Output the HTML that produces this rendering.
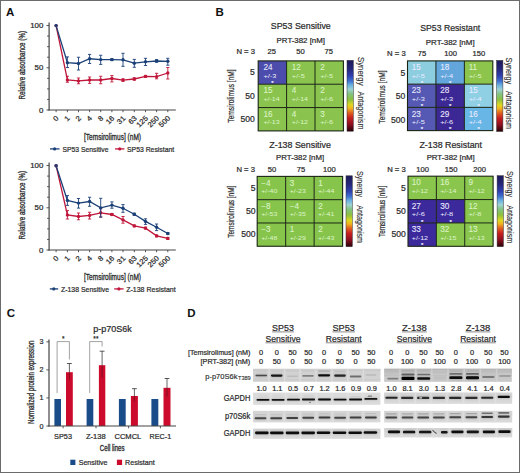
<!DOCTYPE html>
<html><head><meta charset="utf-8"><style>
html,body{margin:0;padding:0;background:#fff;}
svg{display:block;font-family:"Liberation Sans", sans-serif;}
</style></head><body>
<svg width="520" height="473" viewBox="0 0 520 473">
<rect x="0" y="0" width="520" height="473" fill="#fff"/>
<text x="6.00" y="15.90" font-size="11.5" fill="#111" font-weight="bold" >A</text>
<text x="215.60" y="15.90" font-size="11.5" fill="#111" font-weight="bold" >B</text>
<text x="6.80" y="317.30" font-size="11.5" fill="#111" font-weight="bold" >C</text>
<text x="187.30" y="317.30" font-size="11.5" fill="#111" font-weight="bold" >D</text>
<polyline points="56.10,25.60 67.40,80.00 78.50,80.90 89.60,80.00 100.70,80.00 111.90,78.50 123.00,80.10 134.30,79.00 145.50,76.40 156.60,76.60 167.80,73.00" fill="none" stroke="#c0163a" stroke-width="1.3"/>
<polyline points="56.10,25.60 67.40,62.75 78.50,63.50 89.60,58.75 100.70,59.60 111.90,59.60 123.00,59.80 134.30,63.20 145.50,61.80 156.60,61.00 167.80,61.30" fill="none" stroke="#1b4078" stroke-width="1.3"/>
<circle cx="56.10" cy="25.60" r="1.7" fill="#c0163a"/>
<line x1="67.40" y1="76.25" x2="67.40" y2="82.25" stroke="#c0163a" stroke-width="0.9" />
<line x1="65.80" y1="76.25" x2="69.00" y2="76.25" stroke="#c0163a" stroke-width="0.9" />
<line x1="65.80" y1="82.25" x2="69.00" y2="82.25" stroke="#c0163a" stroke-width="0.9" />
<circle cx="67.40" cy="80.00" r="1.7" fill="#c0163a"/>
<line x1="78.50" y1="78.00" x2="78.50" y2="83.75" stroke="#c0163a" stroke-width="0.9" />
<line x1="76.90" y1="78.00" x2="80.10" y2="78.00" stroke="#c0163a" stroke-width="0.9" />
<line x1="76.90" y1="83.75" x2="80.10" y2="83.75" stroke="#c0163a" stroke-width="0.9" />
<circle cx="78.50" cy="80.90" r="1.7" fill="#c0163a"/>
<line x1="89.60" y1="77.00" x2="89.60" y2="83.40" stroke="#c0163a" stroke-width="0.9" />
<line x1="88.00" y1="77.00" x2="91.20" y2="77.00" stroke="#c0163a" stroke-width="0.9" />
<line x1="88.00" y1="83.40" x2="91.20" y2="83.40" stroke="#c0163a" stroke-width="0.9" />
<circle cx="89.60" cy="80.00" r="1.7" fill="#c0163a"/>
<line x1="100.70" y1="76.25" x2="100.70" y2="83.75" stroke="#c0163a" stroke-width="0.9" />
<line x1="99.10" y1="76.25" x2="102.30" y2="76.25" stroke="#c0163a" stroke-width="0.9" />
<line x1="99.10" y1="83.75" x2="102.30" y2="83.75" stroke="#c0163a" stroke-width="0.9" />
<circle cx="100.70" cy="80.00" r="1.7" fill="#c0163a"/>
<line x1="111.90" y1="75.60" x2="111.90" y2="81.90" stroke="#c0163a" stroke-width="0.9" />
<line x1="110.30" y1="75.60" x2="113.50" y2="75.60" stroke="#c0163a" stroke-width="0.9" />
<line x1="110.30" y1="81.90" x2="113.50" y2="81.90" stroke="#c0163a" stroke-width="0.9" />
<circle cx="111.90" cy="78.50" r="1.7" fill="#c0163a"/>
<line x1="123.00" y1="78.80" x2="123.00" y2="81.40" stroke="#c0163a" stroke-width="0.9" />
<line x1="121.40" y1="78.80" x2="124.60" y2="78.80" stroke="#c0163a" stroke-width="0.9" />
<line x1="121.40" y1="81.40" x2="124.60" y2="81.40" stroke="#c0163a" stroke-width="0.9" />
<circle cx="123.00" cy="80.10" r="1.7" fill="#c0163a"/>
<line x1="134.30" y1="77.80" x2="134.30" y2="80.20" stroke="#c0163a" stroke-width="0.9" />
<line x1="132.70" y1="77.80" x2="135.90" y2="77.80" stroke="#c0163a" stroke-width="0.9" />
<line x1="132.70" y1="80.20" x2="135.90" y2="80.20" stroke="#c0163a" stroke-width="0.9" />
<circle cx="134.30" cy="79.00" r="1.7" fill="#c0163a"/>
<line x1="145.50" y1="75.40" x2="145.50" y2="77.40" stroke="#c0163a" stroke-width="0.9" />
<line x1="143.90" y1="75.40" x2="147.10" y2="75.40" stroke="#c0163a" stroke-width="0.9" />
<line x1="143.90" y1="77.40" x2="147.10" y2="77.40" stroke="#c0163a" stroke-width="0.9" />
<circle cx="145.50" cy="76.40" r="1.7" fill="#c0163a"/>
<line x1="156.60" y1="73.30" x2="156.60" y2="78.80" stroke="#c0163a" stroke-width="0.9" />
<line x1="155.00" y1="73.30" x2="158.20" y2="73.30" stroke="#c0163a" stroke-width="0.9" />
<line x1="155.00" y1="78.80" x2="158.20" y2="78.80" stroke="#c0163a" stroke-width="0.9" />
<circle cx="156.60" cy="76.60" r="1.7" fill="#c0163a"/>
<line x1="167.80" y1="67.50" x2="167.80" y2="79.00" stroke="#c0163a" stroke-width="0.9" />
<line x1="166.20" y1="67.50" x2="169.40" y2="67.50" stroke="#c0163a" stroke-width="0.9" />
<line x1="166.20" y1="79.00" x2="169.40" y2="79.00" stroke="#c0163a" stroke-width="0.9" />
<circle cx="167.80" cy="73.00" r="1.7" fill="#c0163a"/>
<circle cx="56.10" cy="25.60" r="1.7" fill="#1b4078"/>
<line x1="67.40" y1="56.90" x2="67.40" y2="67.50" stroke="#1b4078" stroke-width="0.9" />
<line x1="65.80" y1="56.90" x2="69.00" y2="56.90" stroke="#1b4078" stroke-width="0.9" />
<line x1="65.80" y1="67.50" x2="69.00" y2="67.50" stroke="#1b4078" stroke-width="0.9" />
<circle cx="67.40" cy="62.75" r="1.7" fill="#1b4078"/>
<line x1="78.50" y1="57.25" x2="78.50" y2="70.00" stroke="#1b4078" stroke-width="0.9" />
<line x1="76.90" y1="57.25" x2="80.10" y2="57.25" stroke="#1b4078" stroke-width="0.9" />
<line x1="76.90" y1="70.00" x2="80.10" y2="70.00" stroke="#1b4078" stroke-width="0.9" />
<circle cx="78.50" cy="63.50" r="1.7" fill="#1b4078"/>
<line x1="89.60" y1="54.40" x2="89.60" y2="63.50" stroke="#1b4078" stroke-width="0.9" />
<line x1="88.00" y1="54.40" x2="91.20" y2="54.40" stroke="#1b4078" stroke-width="0.9" />
<line x1="88.00" y1="63.50" x2="91.20" y2="63.50" stroke="#1b4078" stroke-width="0.9" />
<circle cx="89.60" cy="58.75" r="1.7" fill="#1b4078"/>
<line x1="100.70" y1="55.25" x2="100.70" y2="64.40" stroke="#1b4078" stroke-width="0.9" />
<line x1="99.10" y1="55.25" x2="102.30" y2="55.25" stroke="#1b4078" stroke-width="0.9" />
<line x1="99.10" y1="64.40" x2="102.30" y2="64.40" stroke="#1b4078" stroke-width="0.9" />
<circle cx="100.70" cy="59.60" r="1.7" fill="#1b4078"/>
<line x1="111.90" y1="58.60" x2="111.90" y2="60.60" stroke="#1b4078" stroke-width="0.9" />
<line x1="110.30" y1="58.60" x2="113.50" y2="58.60" stroke="#1b4078" stroke-width="0.9" />
<line x1="110.30" y1="60.60" x2="113.50" y2="60.60" stroke="#1b4078" stroke-width="0.9" />
<circle cx="111.90" cy="59.60" r="1.7" fill="#1b4078"/>
<line x1="123.00" y1="53.30" x2="123.00" y2="66.30" stroke="#1b4078" stroke-width="0.9" />
<line x1="121.40" y1="53.30" x2="124.60" y2="53.30" stroke="#1b4078" stroke-width="0.9" />
<line x1="121.40" y1="66.30" x2="124.60" y2="66.30" stroke="#1b4078" stroke-width="0.9" />
<circle cx="123.00" cy="59.80" r="1.7" fill="#1b4078"/>
<line x1="134.30" y1="59.40" x2="134.30" y2="67.30" stroke="#1b4078" stroke-width="0.9" />
<line x1="132.70" y1="59.40" x2="135.90" y2="59.40" stroke="#1b4078" stroke-width="0.9" />
<line x1="132.70" y1="67.30" x2="135.90" y2="67.30" stroke="#1b4078" stroke-width="0.9" />
<circle cx="134.30" cy="63.20" r="1.7" fill="#1b4078"/>
<line x1="145.50" y1="58.30" x2="145.50" y2="65.50" stroke="#1b4078" stroke-width="0.9" />
<line x1="143.90" y1="58.30" x2="147.10" y2="58.30" stroke="#1b4078" stroke-width="0.9" />
<line x1="143.90" y1="65.50" x2="147.10" y2="65.50" stroke="#1b4078" stroke-width="0.9" />
<circle cx="145.50" cy="61.80" r="1.7" fill="#1b4078"/>
<line x1="156.60" y1="59.60" x2="156.60" y2="62.20" stroke="#1b4078" stroke-width="0.9" />
<line x1="155.00" y1="59.60" x2="158.20" y2="59.60" stroke="#1b4078" stroke-width="0.9" />
<line x1="155.00" y1="62.20" x2="158.20" y2="62.20" stroke="#1b4078" stroke-width="0.9" />
<circle cx="156.60" cy="61.00" r="1.7" fill="#1b4078"/>
<line x1="167.80" y1="58.30" x2="167.80" y2="65.20" stroke="#1b4078" stroke-width="0.9" />
<line x1="166.20" y1="58.30" x2="169.40" y2="58.30" stroke="#1b4078" stroke-width="0.9" />
<line x1="166.20" y1="65.20" x2="169.40" y2="65.20" stroke="#1b4078" stroke-width="0.9" />
<circle cx="167.80" cy="61.30" r="1.7" fill="#1b4078"/>
<line x1="49.10" y1="22.40" x2="49.10" y2="110.60" stroke="#444" stroke-width="1.2" />
<line x1="48.50" y1="110.00" x2="175.80" y2="110.00" stroke="#444" stroke-width="1.2" />
<line x1="46.50" y1="110.00" x2="49.10" y2="110.00" stroke="#444" stroke-width="0.9" />
<line x1="47.10" y1="99.44" x2="49.10" y2="99.44" stroke="#444" stroke-width="0.9" />
<line x1="47.10" y1="88.88" x2="49.10" y2="88.88" stroke="#444" stroke-width="0.9" />
<line x1="47.10" y1="78.33" x2="49.10" y2="78.33" stroke="#444" stroke-width="0.9" />
<line x1="46.50" y1="67.77" x2="49.10" y2="67.77" stroke="#444" stroke-width="0.9" />
<line x1="47.10" y1="57.21" x2="49.10" y2="57.21" stroke="#444" stroke-width="0.9" />
<line x1="47.10" y1="46.66" x2="49.10" y2="46.66" stroke="#444" stroke-width="0.9" />
<line x1="47.10" y1="36.10" x2="49.10" y2="36.10" stroke="#444" stroke-width="0.9" />
<line x1="46.50" y1="25.54" x2="49.10" y2="25.54" stroke="#444" stroke-width="0.9" />
<text x="43.30" y="28.04" font-size="7.0" fill="#2a2a2a" stroke="#2a2a2a" stroke-width="0.22" text-anchor="end" textLength="13.08" lengthAdjust="spacingAndGlyphs" >100</text>
<text x="43.30" y="70.27" font-size="7.0" fill="#2a2a2a" stroke="#2a2a2a" stroke-width="0.22" text-anchor="end" textLength="8.72" lengthAdjust="spacingAndGlyphs" >50</text>
<text x="43.30" y="112.50" font-size="7.0" fill="#2a2a2a" stroke="#2a2a2a" stroke-width="0.22" text-anchor="end" textLength="4.36" lengthAdjust="spacingAndGlyphs" >0</text>
<line x1="56.10" y1="110.00" x2="56.10" y2="112.20" stroke="#444" stroke-width="0.9" />
<text x="59.10" y="118.60" font-size="7.2" fill="#2a2a2a" stroke="#2a2a2a" stroke-width="0.22" text-anchor="end" textLength="4.32" lengthAdjust="spacingAndGlyphs" transform="rotate(-45 59.10 118.60)" >0</text>
<line x1="67.40" y1="110.00" x2="67.40" y2="112.20" stroke="#444" stroke-width="0.9" />
<text x="70.40" y="118.60" font-size="7.2" fill="#2a2a2a" stroke="#2a2a2a" stroke-width="0.22" text-anchor="end" textLength="4.32" lengthAdjust="spacingAndGlyphs" transform="rotate(-45 70.40 118.60)" >1</text>
<line x1="78.50" y1="110.00" x2="78.50" y2="112.20" stroke="#444" stroke-width="0.9" />
<text x="81.50" y="118.60" font-size="7.2" fill="#2a2a2a" stroke="#2a2a2a" stroke-width="0.22" text-anchor="end" textLength="4.32" lengthAdjust="spacingAndGlyphs" transform="rotate(-45 81.50 118.60)" >2</text>
<line x1="89.60" y1="110.00" x2="89.60" y2="112.20" stroke="#444" stroke-width="0.9" />
<text x="92.60" y="118.60" font-size="7.2" fill="#2a2a2a" stroke="#2a2a2a" stroke-width="0.22" text-anchor="end" textLength="4.32" lengthAdjust="spacingAndGlyphs" transform="rotate(-45 92.60 118.60)" >4</text>
<line x1="100.70" y1="110.00" x2="100.70" y2="112.20" stroke="#444" stroke-width="0.9" />
<text x="103.70" y="118.60" font-size="7.2" fill="#2a2a2a" stroke="#2a2a2a" stroke-width="0.22" text-anchor="end" textLength="4.32" lengthAdjust="spacingAndGlyphs" transform="rotate(-45 103.70 118.60)" >8</text>
<line x1="111.90" y1="110.00" x2="111.90" y2="112.20" stroke="#444" stroke-width="0.9" />
<text x="114.90" y="118.60" font-size="7.2" fill="#2a2a2a" stroke="#2a2a2a" stroke-width="0.22" text-anchor="end" textLength="8.65" lengthAdjust="spacingAndGlyphs" transform="rotate(-45 114.90 118.60)" >16</text>
<line x1="123.00" y1="110.00" x2="123.00" y2="112.20" stroke="#444" stroke-width="0.9" />
<text x="126.00" y="118.60" font-size="7.2" fill="#2a2a2a" stroke="#2a2a2a" stroke-width="0.22" text-anchor="end" textLength="8.65" lengthAdjust="spacingAndGlyphs" transform="rotate(-45 126.00 118.60)" >31</text>
<line x1="134.30" y1="110.00" x2="134.30" y2="112.20" stroke="#444" stroke-width="0.9" />
<text x="137.30" y="118.60" font-size="7.2" fill="#2a2a2a" stroke="#2a2a2a" stroke-width="0.22" text-anchor="end" textLength="8.65" lengthAdjust="spacingAndGlyphs" transform="rotate(-45 137.30 118.60)" >63</text>
<line x1="145.50" y1="110.00" x2="145.50" y2="112.20" stroke="#444" stroke-width="0.9" />
<text x="148.50" y="118.60" font-size="7.2" fill="#2a2a2a" stroke="#2a2a2a" stroke-width="0.22" text-anchor="end" textLength="12.97" lengthAdjust="spacingAndGlyphs" transform="rotate(-45 148.50 118.60)" >125</text>
<line x1="156.60" y1="110.00" x2="156.60" y2="112.20" stroke="#444" stroke-width="0.9" />
<text x="159.60" y="118.60" font-size="7.2" fill="#2a2a2a" stroke="#2a2a2a" stroke-width="0.22" text-anchor="end" textLength="12.97" lengthAdjust="spacingAndGlyphs" transform="rotate(-45 159.60 118.60)" >250</text>
<line x1="167.80" y1="110.00" x2="167.80" y2="112.20" stroke="#444" stroke-width="0.9" />
<text x="170.80" y="118.60" font-size="7.2" fill="#2a2a2a" stroke="#2a2a2a" stroke-width="0.22" text-anchor="end" textLength="12.97" lengthAdjust="spacingAndGlyphs" transform="rotate(-45 170.80 118.60)" >500</text>
<text x="25.20" y="65.20" font-size="8.2" fill="#2a2a2a" stroke="#2a2a2a" stroke-width="0.3" text-anchor="middle" textLength="68.50" lengthAdjust="spacingAndGlyphs" transform="rotate(-90 25.20 65.20)" >Relative absorbance (%)</text>
<text x="84.00" y="139.50" font-size="8.8" fill="#2a2a2a" stroke="#2a2a2a" stroke-width="0.32" textLength="57.00" lengthAdjust="spacingAndGlyphs" >[Temsirolimus] (nM)</text>
<line x1="50.00" y1="148.90" x2="59.50" y2="148.90" stroke="#1b4078" stroke-width="1.3" />
<circle cx="54.60" cy="148.90" r="1.6" fill="#1b4078"/>
<text x="62.40" y="151.50" font-size="7.6" fill="#2a2a2a" stroke="#2a2a2a" stroke-width="0.22" textLength="46.10" lengthAdjust="spacingAndGlyphs" >SP53 Sensitive</text>
<line x1="115.00" y1="148.90" x2="124.40" y2="148.90" stroke="#c0163a" stroke-width="1.3" />
<circle cx="119.70" cy="148.90" r="1.6" fill="#c0163a"/>
<text x="127.00" y="151.50" font-size="7.6" fill="#2a2a2a" stroke="#2a2a2a" stroke-width="0.22" textLength="47.20" lengthAdjust="spacingAndGlyphs" >SP53 Resistant</text>
<polyline points="56.10,165.70 67.40,215.00 78.50,216.50 89.60,215.40 100.70,212.80 111.90,214.50 123.00,219.90 134.30,225.90 145.50,228.10 156.60,235.90 167.80,238.40" fill="none" stroke="#c0163a" stroke-width="1.3"/>
<polyline points="56.10,165.70 67.40,200.40 78.50,203.10 89.60,201.50 100.70,207.90 111.90,205.10 123.00,208.30 134.30,214.30 145.50,221.40 156.60,227.30 167.80,233.50" fill="none" stroke="#1b4078" stroke-width="1.3"/>
<circle cx="56.10" cy="165.70" r="1.7" fill="#c0163a"/>
<line x1="67.40" y1="210.60" x2="67.40" y2="219.00" stroke="#c0163a" stroke-width="0.9" />
<line x1="65.80" y1="210.60" x2="69.00" y2="210.60" stroke="#c0163a" stroke-width="0.9" />
<line x1="65.80" y1="219.00" x2="69.00" y2="219.00" stroke="#c0163a" stroke-width="0.9" />
<circle cx="67.40" cy="215.00" r="1.7" fill="#c0163a"/>
<line x1="78.50" y1="213.00" x2="78.50" y2="219.75" stroke="#c0163a" stroke-width="0.9" />
<line x1="76.90" y1="213.00" x2="80.10" y2="213.00" stroke="#c0163a" stroke-width="0.9" />
<line x1="76.90" y1="219.75" x2="80.10" y2="219.75" stroke="#c0163a" stroke-width="0.9" />
<circle cx="78.50" cy="216.50" r="1.7" fill="#c0163a"/>
<line x1="89.60" y1="212.25" x2="89.60" y2="219.00" stroke="#c0163a" stroke-width="0.9" />
<line x1="88.00" y1="212.25" x2="91.20" y2="212.25" stroke="#c0163a" stroke-width="0.9" />
<line x1="88.00" y1="219.00" x2="91.20" y2="219.00" stroke="#c0163a" stroke-width="0.9" />
<circle cx="89.60" cy="215.40" r="1.7" fill="#c0163a"/>
<line x1="100.70" y1="208.00" x2="100.70" y2="217.00" stroke="#c0163a" stroke-width="0.9" />
<line x1="99.10" y1="208.00" x2="102.30" y2="208.00" stroke="#c0163a" stroke-width="0.9" />
<line x1="99.10" y1="217.00" x2="102.30" y2="217.00" stroke="#c0163a" stroke-width="0.9" />
<circle cx="100.70" cy="212.80" r="1.7" fill="#c0163a"/>
<line x1="111.90" y1="213.50" x2="111.90" y2="215.50" stroke="#c0163a" stroke-width="0.9" />
<line x1="110.30" y1="213.50" x2="113.50" y2="213.50" stroke="#c0163a" stroke-width="0.9" />
<line x1="110.30" y1="215.50" x2="113.50" y2="215.50" stroke="#c0163a" stroke-width="0.9" />
<circle cx="111.90" cy="214.50" r="1.7" fill="#c0163a"/>
<line x1="123.00" y1="216.50" x2="123.00" y2="223.20" stroke="#c0163a" stroke-width="0.9" />
<line x1="121.40" y1="216.50" x2="124.60" y2="216.50" stroke="#c0163a" stroke-width="0.9" />
<line x1="121.40" y1="223.20" x2="124.60" y2="223.20" stroke="#c0163a" stroke-width="0.9" />
<circle cx="123.00" cy="219.90" r="1.7" fill="#c0163a"/>
<line x1="134.30" y1="225.00" x2="134.30" y2="226.80" stroke="#c0163a" stroke-width="0.9" />
<line x1="132.70" y1="225.00" x2="135.90" y2="225.00" stroke="#c0163a" stroke-width="0.9" />
<line x1="132.70" y1="226.80" x2="135.90" y2="226.80" stroke="#c0163a" stroke-width="0.9" />
<circle cx="134.30" cy="225.90" r="1.7" fill="#c0163a"/>
<line x1="145.50" y1="227.10" x2="145.50" y2="229.10" stroke="#c0163a" stroke-width="0.9" />
<line x1="143.90" y1="227.10" x2="147.10" y2="227.10" stroke="#c0163a" stroke-width="0.9" />
<line x1="143.90" y1="229.10" x2="147.10" y2="229.10" stroke="#c0163a" stroke-width="0.9" />
<circle cx="145.50" cy="228.10" r="1.7" fill="#c0163a"/>
<line x1="156.60" y1="235.00" x2="156.60" y2="236.80" stroke="#c0163a" stroke-width="0.9" />
<line x1="155.00" y1="235.00" x2="158.20" y2="235.00" stroke="#c0163a" stroke-width="0.9" />
<line x1="155.00" y1="236.80" x2="158.20" y2="236.80" stroke="#c0163a" stroke-width="0.9" />
<circle cx="156.60" cy="235.90" r="1.7" fill="#c0163a"/>
<line x1="167.80" y1="237.40" x2="167.80" y2="239.40" stroke="#c0163a" stroke-width="0.9" />
<line x1="166.20" y1="237.40" x2="169.40" y2="237.40" stroke="#c0163a" stroke-width="0.9" />
<line x1="166.20" y1="239.40" x2="169.40" y2="239.40" stroke="#c0163a" stroke-width="0.9" />
<circle cx="167.80" cy="238.40" r="1.7" fill="#c0163a"/>
<circle cx="56.10" cy="165.70" r="1.7" fill="#1b4078"/>
<line x1="67.40" y1="195.60" x2="67.40" y2="205.40" stroke="#1b4078" stroke-width="0.9" />
<line x1="65.80" y1="195.60" x2="69.00" y2="195.60" stroke="#1b4078" stroke-width="0.9" />
<line x1="65.80" y1="205.40" x2="69.00" y2="205.40" stroke="#1b4078" stroke-width="0.9" />
<circle cx="67.40" cy="200.40" r="1.7" fill="#1b4078"/>
<line x1="78.50" y1="198.50" x2="78.50" y2="208.10" stroke="#1b4078" stroke-width="0.9" />
<line x1="76.90" y1="198.50" x2="80.10" y2="198.50" stroke="#1b4078" stroke-width="0.9" />
<line x1="76.90" y1="208.10" x2="80.10" y2="208.10" stroke="#1b4078" stroke-width="0.9" />
<circle cx="78.50" cy="203.10" r="1.7" fill="#1b4078"/>
<line x1="89.60" y1="197.25" x2="89.60" y2="206.25" stroke="#1b4078" stroke-width="0.9" />
<line x1="88.00" y1="197.25" x2="91.20" y2="197.25" stroke="#1b4078" stroke-width="0.9" />
<line x1="88.00" y1="206.25" x2="91.20" y2="206.25" stroke="#1b4078" stroke-width="0.9" />
<circle cx="89.60" cy="201.50" r="1.7" fill="#1b4078"/>
<line x1="100.70" y1="198.30" x2="100.70" y2="217.10" stroke="#1b4078" stroke-width="0.9" />
<line x1="99.10" y1="198.30" x2="102.30" y2="198.30" stroke="#1b4078" stroke-width="0.9" />
<line x1="99.10" y1="217.10" x2="102.30" y2="217.10" stroke="#1b4078" stroke-width="0.9" />
<circle cx="100.70" cy="207.90" r="1.7" fill="#1b4078"/>
<line x1="111.90" y1="201.90" x2="111.90" y2="208.20" stroke="#1b4078" stroke-width="0.9" />
<line x1="110.30" y1="201.90" x2="113.50" y2="201.90" stroke="#1b4078" stroke-width="0.9" />
<line x1="110.30" y1="208.20" x2="113.50" y2="208.20" stroke="#1b4078" stroke-width="0.9" />
<circle cx="111.90" cy="205.10" r="1.7" fill="#1b4078"/>
<line x1="123.00" y1="204.60" x2="123.00" y2="212.30" stroke="#1b4078" stroke-width="0.9" />
<line x1="121.40" y1="204.60" x2="124.60" y2="204.60" stroke="#1b4078" stroke-width="0.9" />
<line x1="121.40" y1="212.30" x2="124.60" y2="212.30" stroke="#1b4078" stroke-width="0.9" />
<circle cx="123.00" cy="208.30" r="1.7" fill="#1b4078"/>
<line x1="134.30" y1="213.20" x2="134.30" y2="215.40" stroke="#1b4078" stroke-width="0.9" />
<line x1="132.70" y1="213.20" x2="135.90" y2="213.20" stroke="#1b4078" stroke-width="0.9" />
<line x1="132.70" y1="215.40" x2="135.90" y2="215.40" stroke="#1b4078" stroke-width="0.9" />
<circle cx="134.30" cy="214.30" r="1.7" fill="#1b4078"/>
<line x1="145.50" y1="218.80" x2="145.50" y2="224.40" stroke="#1b4078" stroke-width="0.9" />
<line x1="143.90" y1="218.80" x2="147.10" y2="218.80" stroke="#1b4078" stroke-width="0.9" />
<line x1="143.90" y1="224.40" x2="147.10" y2="224.40" stroke="#1b4078" stroke-width="0.9" />
<circle cx="145.50" cy="221.40" r="1.7" fill="#1b4078"/>
<line x1="156.60" y1="224.00" x2="156.60" y2="230.60" stroke="#1b4078" stroke-width="0.9" />
<line x1="155.00" y1="224.00" x2="158.20" y2="224.00" stroke="#1b4078" stroke-width="0.9" />
<line x1="155.00" y1="230.60" x2="158.20" y2="230.60" stroke="#1b4078" stroke-width="0.9" />
<circle cx="156.60" cy="227.30" r="1.7" fill="#1b4078"/>
<line x1="167.80" y1="232.50" x2="167.80" y2="234.50" stroke="#1b4078" stroke-width="0.9" />
<line x1="166.20" y1="232.50" x2="169.40" y2="232.50" stroke="#1b4078" stroke-width="0.9" />
<line x1="166.20" y1="234.50" x2="169.40" y2="234.50" stroke="#1b4078" stroke-width="0.9" />
<circle cx="167.80" cy="233.50" r="1.7" fill="#1b4078"/>
<line x1="49.10" y1="162.40" x2="49.10" y2="250.60" stroke="#444" stroke-width="1.2" />
<line x1="48.50" y1="250.00" x2="175.80" y2="250.00" stroke="#444" stroke-width="1.2" />
<line x1="46.50" y1="250.00" x2="49.10" y2="250.00" stroke="#444" stroke-width="0.9" />
<line x1="47.10" y1="239.44" x2="49.10" y2="239.44" stroke="#444" stroke-width="0.9" />
<line x1="47.10" y1="228.88" x2="49.10" y2="228.88" stroke="#444" stroke-width="0.9" />
<line x1="47.10" y1="218.33" x2="49.10" y2="218.33" stroke="#444" stroke-width="0.9" />
<line x1="46.50" y1="207.77" x2="49.10" y2="207.77" stroke="#444" stroke-width="0.9" />
<line x1="47.10" y1="197.21" x2="49.10" y2="197.21" stroke="#444" stroke-width="0.9" />
<line x1="47.10" y1="186.66" x2="49.10" y2="186.66" stroke="#444" stroke-width="0.9" />
<line x1="47.10" y1="176.10" x2="49.10" y2="176.10" stroke="#444" stroke-width="0.9" />
<line x1="46.50" y1="165.54" x2="49.10" y2="165.54" stroke="#444" stroke-width="0.9" />
<text x="43.30" y="168.04" font-size="7.0" fill="#2a2a2a" stroke="#2a2a2a" stroke-width="0.22" text-anchor="end" textLength="13.08" lengthAdjust="spacingAndGlyphs" >100</text>
<text x="43.30" y="210.27" font-size="7.0" fill="#2a2a2a" stroke="#2a2a2a" stroke-width="0.22" text-anchor="end" textLength="8.72" lengthAdjust="spacingAndGlyphs" >50</text>
<text x="43.30" y="252.50" font-size="7.0" fill="#2a2a2a" stroke="#2a2a2a" stroke-width="0.22" text-anchor="end" textLength="4.36" lengthAdjust="spacingAndGlyphs" >0</text>
<line x1="56.10" y1="250.00" x2="56.10" y2="252.20" stroke="#444" stroke-width="0.9" />
<text x="59.10" y="258.60" font-size="7.2" fill="#2a2a2a" stroke="#2a2a2a" stroke-width="0.22" text-anchor="end" textLength="4.32" lengthAdjust="spacingAndGlyphs" transform="rotate(-45 59.10 258.60)" >0</text>
<line x1="67.40" y1="250.00" x2="67.40" y2="252.20" stroke="#444" stroke-width="0.9" />
<text x="70.40" y="258.60" font-size="7.2" fill="#2a2a2a" stroke="#2a2a2a" stroke-width="0.22" text-anchor="end" textLength="4.32" lengthAdjust="spacingAndGlyphs" transform="rotate(-45 70.40 258.60)" >1</text>
<line x1="78.50" y1="250.00" x2="78.50" y2="252.20" stroke="#444" stroke-width="0.9" />
<text x="81.50" y="258.60" font-size="7.2" fill="#2a2a2a" stroke="#2a2a2a" stroke-width="0.22" text-anchor="end" textLength="4.32" lengthAdjust="spacingAndGlyphs" transform="rotate(-45 81.50 258.60)" >2</text>
<line x1="89.60" y1="250.00" x2="89.60" y2="252.20" stroke="#444" stroke-width="0.9" />
<text x="92.60" y="258.60" font-size="7.2" fill="#2a2a2a" stroke="#2a2a2a" stroke-width="0.22" text-anchor="end" textLength="4.32" lengthAdjust="spacingAndGlyphs" transform="rotate(-45 92.60 258.60)" >4</text>
<line x1="100.70" y1="250.00" x2="100.70" y2="252.20" stroke="#444" stroke-width="0.9" />
<text x="103.70" y="258.60" font-size="7.2" fill="#2a2a2a" stroke="#2a2a2a" stroke-width="0.22" text-anchor="end" textLength="4.32" lengthAdjust="spacingAndGlyphs" transform="rotate(-45 103.70 258.60)" >8</text>
<line x1="111.90" y1="250.00" x2="111.90" y2="252.20" stroke="#444" stroke-width="0.9" />
<text x="114.90" y="258.60" font-size="7.2" fill="#2a2a2a" stroke="#2a2a2a" stroke-width="0.22" text-anchor="end" textLength="8.65" lengthAdjust="spacingAndGlyphs" transform="rotate(-45 114.90 258.60)" >16</text>
<line x1="123.00" y1="250.00" x2="123.00" y2="252.20" stroke="#444" stroke-width="0.9" />
<text x="126.00" y="258.60" font-size="7.2" fill="#2a2a2a" stroke="#2a2a2a" stroke-width="0.22" text-anchor="end" textLength="8.65" lengthAdjust="spacingAndGlyphs" transform="rotate(-45 126.00 258.60)" >31</text>
<line x1="134.30" y1="250.00" x2="134.30" y2="252.20" stroke="#444" stroke-width="0.9" />
<text x="137.30" y="258.60" font-size="7.2" fill="#2a2a2a" stroke="#2a2a2a" stroke-width="0.22" text-anchor="end" textLength="8.65" lengthAdjust="spacingAndGlyphs" transform="rotate(-45 137.30 258.60)" >63</text>
<line x1="145.50" y1="250.00" x2="145.50" y2="252.20" stroke="#444" stroke-width="0.9" />
<text x="148.50" y="258.60" font-size="7.2" fill="#2a2a2a" stroke="#2a2a2a" stroke-width="0.22" text-anchor="end" textLength="12.97" lengthAdjust="spacingAndGlyphs" transform="rotate(-45 148.50 258.60)" >125</text>
<line x1="156.60" y1="250.00" x2="156.60" y2="252.20" stroke="#444" stroke-width="0.9" />
<text x="159.60" y="258.60" font-size="7.2" fill="#2a2a2a" stroke="#2a2a2a" stroke-width="0.22" text-anchor="end" textLength="12.97" lengthAdjust="spacingAndGlyphs" transform="rotate(-45 159.60 258.60)" >250</text>
<line x1="167.80" y1="250.00" x2="167.80" y2="252.20" stroke="#444" stroke-width="0.9" />
<text x="170.80" y="258.60" font-size="7.2" fill="#2a2a2a" stroke="#2a2a2a" stroke-width="0.22" text-anchor="end" textLength="12.97" lengthAdjust="spacingAndGlyphs" transform="rotate(-45 170.80 258.60)" >500</text>
<text x="25.20" y="205.20" font-size="8.2" fill="#2a2a2a" stroke="#2a2a2a" stroke-width="0.3" text-anchor="middle" textLength="68.50" lengthAdjust="spacingAndGlyphs" transform="rotate(-90 25.20 205.20)" >Relative absorbance (%)</text>
<text x="84.00" y="279.50" font-size="8.8" fill="#2a2a2a" stroke="#2a2a2a" stroke-width="0.32" textLength="57.00" lengthAdjust="spacingAndGlyphs" >[Temsirolimus] (nM)</text>
<line x1="49.80" y1="288.90" x2="58.20" y2="288.90" stroke="#1b4078" stroke-width="1.3" />
<circle cx="53.80" cy="288.90" r="1.6" fill="#1b4078"/>
<text x="61.00" y="291.50" font-size="7.6" fill="#2a2a2a" stroke="#2a2a2a" stroke-width="0.22" textLength="48.00" lengthAdjust="spacingAndGlyphs" >Z-138 Sensitive</text>
<line x1="114.20" y1="288.90" x2="123.60" y2="288.90" stroke="#c0163a" stroke-width="1.3" />
<circle cx="118.90" cy="288.90" r="1.6" fill="#c0163a"/>
<text x="126.20" y="291.50" font-size="7.6" fill="#2a2a2a" stroke="#2a2a2a" stroke-width="0.22" textLength="49.50" lengthAdjust="spacingAndGlyphs" >Z-138 Resistant</text>
<defs><linearGradient id="cbar" x1="0" y1="0" x2="0" y2="1"><stop offset="0" stop-color="#1c1a58"/><stop offset="0.12" stop-color="#26267a"/><stop offset="0.22" stop-color="#3040b0"/><stop offset="0.29" stop-color="#3f6fcf"/><stop offset="0.35" stop-color="#6cb2e0"/><stop offset="0.41" stop-color="#9ed2d4"/><stop offset="0.47" stop-color="#84c484"/><stop offset="0.55" stop-color="#8cc040"/><stop offset="0.63" stop-color="#e0d820"/><stop offset="0.68" stop-color="#f0b020"/><stop offset="0.74" stop-color="#e06020"/><stop offset="0.81" stop-color="#c82020"/><stop offset="0.90" stop-color="#901020"/><stop offset="1" stop-color="#2a0008"/></linearGradient></defs>
<text x="300.80" y="29.20" font-size="9.0" fill="#2a2a2a" stroke="#2a2a2a" stroke-width="0.22" text-anchor="middle" textLength="60.00" lengthAdjust="spacingAndGlyphs" >SP53 Sensitive</text>
<text x="300.80" y="42.60" font-size="7.8" fill="#2a2a2a" stroke="#2a2a2a" stroke-width="0.22" text-anchor="middle" textLength="48.40" lengthAdjust="spacingAndGlyphs" >PRT-382 [nM]</text>
<text x="255.00" y="54.20" font-size="7.2" fill="#2a2a2a" stroke="#2a2a2a" stroke-width="0.22" text-anchor="end" textLength="18.60" lengthAdjust="spacingAndGlyphs" >N = 3</text>
<text x="271.80" y="54.10" font-size="7.6" fill="#2a2a2a" stroke="#2a2a2a" stroke-width="0.22" text-anchor="middle" >25</text>
<text x="300.40" y="54.10" font-size="7.6" fill="#2a2a2a" stroke="#2a2a2a" stroke-width="0.22" text-anchor="middle" >50</text>
<text x="328.80" y="54.10" font-size="7.6" fill="#2a2a2a" stroke="#2a2a2a" stroke-width="0.22" text-anchor="middle" >75</text>
<text x="254.80" y="75.00" font-size="8.6" fill="#2a2a2a" stroke="#2a2a2a" stroke-width="0.22" text-anchor="end" >5</text>
<text x="254.80" y="98.70" font-size="8.6" fill="#2a2a2a" stroke="#2a2a2a" stroke-width="0.22" text-anchor="end" >50</text>
<text x="254.80" y="122.20" font-size="8.6" fill="#2a2a2a" stroke="#2a2a2a" stroke-width="0.22" text-anchor="end" >500</text>
<text x="234.40" y="96.00" font-size="9.2" fill="#2a2a2a" stroke="#2a2a2a" stroke-width="0.22" text-anchor="middle" textLength="53.30" lengthAdjust="spacingAndGlyphs" transform="rotate(-90 234.40 96.00)" >Temsirolimus [nM]</text>
<rect x="258.20" y="60.90" width="28.40" height="23.33" fill="#4b4cab" />
<rect x="286.60" y="60.90" width="28.40" height="23.33" fill="#8ac44e" />
<rect x="315.00" y="60.90" width="28.40" height="23.33" fill="#8ac44e" />
<rect x="258.20" y="84.23" width="28.40" height="23.33" fill="#8ac44e" />
<rect x="286.60" y="84.23" width="28.40" height="23.33" fill="#8ac44e" />
<rect x="315.00" y="84.23" width="28.40" height="23.33" fill="#8ac44e" />
<rect x="258.20" y="107.57" width="28.40" height="23.33" fill="#8ac44e" />
<rect x="286.60" y="107.57" width="28.40" height="23.33" fill="#8ac44e" />
<rect x="315.00" y="107.57" width="28.40" height="23.33" fill="#8ac44e" />
<text x="263.40" y="70.10" font-size="8.2" fill="#ececff" stroke="#ececff" stroke-width="0.08" >24</text>
<text x="263.40" y="77.50" font-size="5.9" fill="#ececff" textLength="13.00" lengthAdjust="spacingAndGlyphs" >+/-3</text>
<text x="272.50" y="84.90" font-size="6.0" fill="#ececff" stroke="#ececff" stroke-width="0.22" text-anchor="middle" >*</text>
<text x="291.80" y="70.10" font-size="8.2" fill="#ddf4c8" stroke="#ddf4c8" stroke-width="0.08" >12</text>
<text x="291.80" y="77.50" font-size="5.9" fill="#ddf4c8" textLength="13.00" lengthAdjust="spacingAndGlyphs" >+/-5</text>
<text x="320.20" y="70.10" font-size="8.2" fill="#ddf4c8" stroke="#ddf4c8" stroke-width="0.08" >2</text>
<text x="320.20" y="77.50" font-size="5.9" fill="#ddf4c8" textLength="13.00" lengthAdjust="spacingAndGlyphs" >+/-5</text>
<text x="263.40" y="93.43" font-size="8.2" fill="#ddf4c8" stroke="#ddf4c8" stroke-width="0.08" >15</text>
<text x="263.40" y="100.83" font-size="5.9" fill="#ddf4c8" textLength="16.20" lengthAdjust="spacingAndGlyphs" >+/-14</text>
<text x="291.80" y="93.43" font-size="8.2" fill="#ddf4c8" stroke="#ddf4c8" stroke-width="0.08" >4</text>
<text x="291.80" y="100.83" font-size="5.9" fill="#ddf4c8" textLength="16.20" lengthAdjust="spacingAndGlyphs" >+/-14</text>
<text x="320.20" y="93.43" font-size="8.2" fill="#ddf4c8" stroke="#ddf4c8" stroke-width="0.08" >2</text>
<text x="320.20" y="100.83" font-size="5.9" fill="#ddf4c8" textLength="13.00" lengthAdjust="spacingAndGlyphs" >+/-6</text>
<text x="263.40" y="116.77" font-size="8.2" fill="#ddf4c8" stroke="#ddf4c8" stroke-width="0.08" >16</text>
<text x="263.40" y="124.17" font-size="5.9" fill="#ddf4c8" textLength="16.20" lengthAdjust="spacingAndGlyphs" >+/-13</text>
<text x="291.80" y="116.77" font-size="8.2" fill="#ddf4c8" stroke="#ddf4c8" stroke-width="0.08" >4</text>
<text x="291.80" y="124.17" font-size="5.9" fill="#ddf4c8" textLength="16.20" lengthAdjust="spacingAndGlyphs" >+/-12</text>
<text x="320.20" y="116.77" font-size="8.2" fill="#ddf4c8" stroke="#ddf4c8" stroke-width="0.08" >3</text>
<text x="320.20" y="124.17" font-size="5.9" fill="#ddf4c8" textLength="13.00" lengthAdjust="spacingAndGlyphs" >+/-6</text>
<line x1="286.60" y1="60.90" x2="286.60" y2="130.90" stroke="#1a2412" stroke-width="1.0" />
<line x1="258.20" y1="84.23" x2="343.40" y2="84.23" stroke="#1a2412" stroke-width="1.0" />
<line x1="315.00" y1="60.90" x2="315.00" y2="130.90" stroke="#1a2412" stroke-width="1.0" />
<line x1="258.20" y1="107.57" x2="343.40" y2="107.57" stroke="#1a2412" stroke-width="1.0" />
<rect x="258.20" y="60.90" width="85.20" height="70.00" fill="none" stroke="#1a2412" stroke-width="1.1"/>
<rect x="347.00" y="60.30" width="6.3" height="70.90" fill="url(#cbar)" stroke="#333" stroke-width="0.5"/>
<text x="357.60" y="57.00" font-size="8.2" fill="#2a2a2a" stroke="#2a2a2a" stroke-width="0.1" textLength="28.60" lengthAdjust="spacingAndGlyphs" transform="rotate(90 357.60 57.00)" >Synergy</text>
<text x="357.60" y="91.40" font-size="8.2" fill="#2a2a2a" stroke="#2a2a2a" stroke-width="0.1" textLength="38.10" lengthAdjust="spacingAndGlyphs" transform="rotate(90 357.60 91.40)" >Antagonism</text>
<text x="450.20" y="30.80" font-size="9.0" fill="#2a2a2a" stroke="#2a2a2a" stroke-width="0.22" text-anchor="middle" textLength="59.90" lengthAdjust="spacingAndGlyphs" >SP53 Resistant</text>
<text x="450.20" y="44.60" font-size="7.8" fill="#2a2a2a" stroke="#2a2a2a" stroke-width="0.22" text-anchor="middle" textLength="48.80" lengthAdjust="spacingAndGlyphs" >PRT-382 [nM]</text>
<text x="405.70" y="56.00" font-size="7.2" fill="#2a2a2a" stroke="#2a2a2a" stroke-width="0.22" text-anchor="end" textLength="18.60" lengthAdjust="spacingAndGlyphs" >N = 3</text>
<text x="422.00" y="55.90" font-size="7.6" fill="#2a2a2a" stroke="#2a2a2a" stroke-width="0.22" text-anchor="middle" >75</text>
<text x="450.60" y="55.90" font-size="7.6" fill="#2a2a2a" stroke="#2a2a2a" stroke-width="0.22" text-anchor="middle" >100</text>
<text x="478.80" y="55.90" font-size="7.6" fill="#2a2a2a" stroke="#2a2a2a" stroke-width="0.22" text-anchor="middle" >150</text>
<text x="405.40" y="75.60" font-size="8.6" fill="#2a2a2a" stroke="#2a2a2a" stroke-width="0.22" text-anchor="end" >5</text>
<text x="405.40" y="99.00" font-size="8.6" fill="#2a2a2a" stroke="#2a2a2a" stroke-width="0.22" text-anchor="end" >50</text>
<text x="405.40" y="122.60" font-size="8.6" fill="#2a2a2a" stroke="#2a2a2a" stroke-width="0.22" text-anchor="end" >500</text>
<text x="384.80" y="97.00" font-size="9.2" fill="#2a2a2a" stroke="#2a2a2a" stroke-width="0.22" text-anchor="middle" textLength="53.30" lengthAdjust="spacingAndGlyphs" transform="rotate(-90 384.80 97.00)" >Temsirolimus [nM]</text>
<rect x="407.50" y="60.90" width="28.43" height="23.23" fill="#8ccde0" />
<rect x="435.93" y="60.90" width="28.43" height="23.23" fill="#62a6dc" />
<rect x="464.37" y="60.90" width="28.43" height="23.23" fill="#8cc44c" />
<rect x="407.50" y="84.13" width="28.43" height="23.23" fill="#5559b4" />
<rect x="435.93" y="84.13" width="28.43" height="23.23" fill="#3c2894" />
<rect x="464.37" y="84.13" width="28.43" height="23.23" fill="#8fd0e4" />
<rect x="407.50" y="107.37" width="28.43" height="23.23" fill="#5559b4" />
<rect x="435.93" y="107.37" width="28.43" height="23.23" fill="#3c2894" />
<rect x="464.37" y="107.37" width="28.43" height="23.23" fill="#68b6e6" />
<text x="411.80" y="70.10" font-size="8.2" fill="#ececff" stroke="#ececff" stroke-width="0.08" >15</text>
<text x="411.80" y="77.50" font-size="5.9" fill="#ececff" textLength="13.00" lengthAdjust="spacingAndGlyphs" >+/-5</text>
<text x="421.82" y="84.90" font-size="6.0" fill="#ececff" stroke="#ececff" stroke-width="0.22" text-anchor="middle" >*</text>
<text x="440.23" y="70.10" font-size="8.2" fill="#ececff" stroke="#ececff" stroke-width="0.08" >18</text>
<text x="440.23" y="77.50" font-size="5.9" fill="#ececff" textLength="13.00" lengthAdjust="spacingAndGlyphs" >+/-4</text>
<text x="450.25" y="84.90" font-size="6.0" fill="#ececff" stroke="#ececff" stroke-width="0.22" text-anchor="middle" >*</text>
<text x="468.67" y="70.10" font-size="8.2" fill="#ddf4c8" stroke="#ddf4c8" stroke-width="0.08" >11</text>
<text x="468.67" y="77.50" font-size="5.9" fill="#ddf4c8" textLength="13.00" lengthAdjust="spacingAndGlyphs" >+/-5</text>
<text x="411.80" y="93.33" font-size="8.2" fill="#ececff" stroke="#ececff" stroke-width="0.08" >23</text>
<text x="411.80" y="100.73" font-size="5.9" fill="#ececff" textLength="13.00" lengthAdjust="spacingAndGlyphs" >+/-3</text>
<text x="421.82" y="108.13" font-size="6.0" fill="#ececff" stroke="#ececff" stroke-width="0.22" text-anchor="middle" >*</text>
<text x="440.23" y="93.33" font-size="8.2" fill="#ececff" stroke="#ececff" stroke-width="0.08" >28</text>
<text x="440.23" y="100.73" font-size="5.9" fill="#ececff" textLength="13.00" lengthAdjust="spacingAndGlyphs" >+/-3</text>
<text x="450.25" y="108.13" font-size="6.0" fill="#ececff" stroke="#ececff" stroke-width="0.22" text-anchor="middle" >*</text>
<text x="468.67" y="93.33" font-size="8.2" fill="#ececff" stroke="#ececff" stroke-width="0.08" >15</text>
<text x="468.67" y="100.73" font-size="5.9" fill="#ececff" textLength="13.00" lengthAdjust="spacingAndGlyphs" >+/-4</text>
<text x="478.68" y="108.13" font-size="6.0" fill="#ececff" stroke="#ececff" stroke-width="0.22" text-anchor="middle" >*</text>
<text x="411.80" y="116.57" font-size="8.2" fill="#ececff" stroke="#ececff" stroke-width="0.08" >23</text>
<text x="411.80" y="123.97" font-size="5.9" fill="#ececff" textLength="13.00" lengthAdjust="spacingAndGlyphs" >+/-5</text>
<text x="421.82" y="131.37" font-size="6.0" fill="#ececff" stroke="#ececff" stroke-width="0.22" text-anchor="middle" >*</text>
<text x="440.23" y="116.57" font-size="8.2" fill="#ececff" stroke="#ececff" stroke-width="0.08" >29</text>
<text x="440.23" y="123.97" font-size="5.9" fill="#ececff" textLength="13.00" lengthAdjust="spacingAndGlyphs" >+/-6</text>
<text x="450.25" y="131.37" font-size="6.0" fill="#ececff" stroke="#ececff" stroke-width="0.22" text-anchor="middle" >*</text>
<text x="468.67" y="116.57" font-size="8.2" fill="#ececff" stroke="#ececff" stroke-width="0.08" >16</text>
<text x="468.67" y="123.97" font-size="5.9" fill="#ececff" textLength="13.00" lengthAdjust="spacingAndGlyphs" >+/-4</text>
<text x="478.68" y="131.37" font-size="6.0" fill="#ececff" stroke="#ececff" stroke-width="0.22" text-anchor="middle" >*</text>
<line x1="435.93" y1="60.90" x2="435.93" y2="130.60" stroke="#1a2412" stroke-width="1.0" />
<line x1="407.50" y1="84.13" x2="492.80" y2="84.13" stroke="#1a2412" stroke-width="1.0" />
<line x1="464.37" y1="60.90" x2="464.37" y2="130.60" stroke="#1a2412" stroke-width="1.0" />
<line x1="407.50" y1="107.37" x2="492.80" y2="107.37" stroke="#1a2412" stroke-width="1.0" />
<rect x="407.50" y="60.90" width="85.30" height="69.70" fill="none" stroke="#1a2412" stroke-width="1.1"/>
<rect x="496.60" y="60.40" width="6.3" height="71.10" fill="url(#cbar)" stroke="#333" stroke-width="0.5"/>
<text x="506.20" y="57.60" font-size="8.2" fill="#2a2a2a" stroke="#2a2a2a" stroke-width="0.1" textLength="26.60" lengthAdjust="spacingAndGlyphs" transform="rotate(90 506.20 57.60)" >Synergy</text>
<text x="506.20" y="90.90" font-size="8.2" fill="#2a2a2a" stroke="#2a2a2a" stroke-width="0.1" textLength="38.00" lengthAdjust="spacingAndGlyphs" transform="rotate(90 506.20 90.90)" >Antagonism</text>
<text x="300.10" y="148.30" font-size="9.0" fill="#2a2a2a" stroke="#2a2a2a" stroke-width="0.22" text-anchor="middle" textLength="61.60" lengthAdjust="spacingAndGlyphs" >Z-138 Sensitive</text>
<text x="300.10" y="159.70" font-size="7.8" fill="#2a2a2a" stroke="#2a2a2a" stroke-width="0.22" text-anchor="middle" textLength="48.00" lengthAdjust="spacingAndGlyphs" >PRT-382 [nM]</text>
<text x="255.00" y="171.80" font-size="7.2" fill="#2a2a2a" stroke="#2a2a2a" stroke-width="0.22" text-anchor="end" textLength="18.60" lengthAdjust="spacingAndGlyphs" >N = 3</text>
<text x="272.00" y="171.90" font-size="7.6" fill="#2a2a2a" stroke="#2a2a2a" stroke-width="0.22" text-anchor="middle" >50</text>
<text x="301.00" y="171.90" font-size="7.6" fill="#2a2a2a" stroke="#2a2a2a" stroke-width="0.22" text-anchor="middle" >75</text>
<text x="329.40" y="171.90" font-size="7.6" fill="#2a2a2a" stroke="#2a2a2a" stroke-width="0.22" text-anchor="middle" >100</text>
<text x="255.60" y="190.80" font-size="8.6" fill="#2a2a2a" stroke="#2a2a2a" stroke-width="0.22" text-anchor="end" >5</text>
<text x="255.60" y="214.00" font-size="8.6" fill="#2a2a2a" stroke="#2a2a2a" stroke-width="0.22" text-anchor="end" >50</text>
<text x="255.60" y="237.10" font-size="8.6" fill="#2a2a2a" stroke="#2a2a2a" stroke-width="0.22" text-anchor="end" >500</text>
<text x="234.20" y="211.70" font-size="9.2" fill="#2a2a2a" stroke="#2a2a2a" stroke-width="0.22" text-anchor="middle" textLength="52.20" lengthAdjust="spacingAndGlyphs" transform="rotate(-90 234.20 211.70)" >Temsirolimus [nM]</text>
<rect x="257.20" y="176.40" width="28.47" height="23.28" fill="#86c44c" />
<rect x="285.67" y="176.40" width="28.47" height="23.28" fill="#86c44c" />
<rect x="314.13" y="176.40" width="28.47" height="23.28" fill="#86c44c" />
<rect x="257.20" y="199.68" width="28.47" height="23.28" fill="#86c44c" />
<rect x="285.67" y="199.68" width="28.47" height="23.28" fill="#86c44c" />
<rect x="314.13" y="199.68" width="28.47" height="23.28" fill="#86c44c" />
<rect x="257.20" y="222.97" width="28.47" height="23.28" fill="#86c44c" />
<rect x="285.67" y="222.97" width="28.47" height="23.28" fill="#86c44c" />
<rect x="314.13" y="222.97" width="28.47" height="23.28" fill="#86c44c" />
<text x="261.20" y="185.60" font-size="8.2" fill="#ddf4c8" stroke="#ddf4c8" stroke-width="0.08" >−4</text>
<text x="261.20" y="193.00" font-size="5.9" fill="#ddf4c8" textLength="16.20" lengthAdjust="spacingAndGlyphs" >+/-40</text>
<text x="289.67" y="185.60" font-size="8.2" fill="#ddf4c8" stroke="#ddf4c8" stroke-width="0.08" >3</text>
<text x="289.67" y="193.00" font-size="5.9" fill="#ddf4c8" textLength="16.20" lengthAdjust="spacingAndGlyphs" >+/-23</text>
<text x="318.13" y="185.60" font-size="8.2" fill="#ddf4c8" stroke="#ddf4c8" stroke-width="0.08" >1</text>
<text x="318.13" y="193.00" font-size="5.9" fill="#ddf4c8" textLength="16.20" lengthAdjust="spacingAndGlyphs" >+/-44</text>
<text x="261.20" y="208.88" font-size="8.2" fill="#ddf4c8" stroke="#ddf4c8" stroke-width="0.08" >−8</text>
<text x="261.20" y="216.28" font-size="5.9" fill="#ddf4c8" textLength="16.20" lengthAdjust="spacingAndGlyphs" >+/-53</text>
<text x="289.67" y="208.88" font-size="8.2" fill="#ddf4c8" stroke="#ddf4c8" stroke-width="0.08" >−4</text>
<text x="289.67" y="216.28" font-size="5.9" fill="#ddf4c8" textLength="16.20" lengthAdjust="spacingAndGlyphs" >+/-35</text>
<text x="318.13" y="208.88" font-size="8.2" fill="#ddf4c8" stroke="#ddf4c8" stroke-width="0.08" >2</text>
<text x="318.13" y="216.28" font-size="5.9" fill="#ddf4c8" textLength="16.20" lengthAdjust="spacingAndGlyphs" >+/-41</text>
<text x="261.20" y="232.17" font-size="8.2" fill="#ddf4c8" stroke="#ddf4c8" stroke-width="0.08" >−3</text>
<text x="261.20" y="239.57" font-size="5.9" fill="#ddf4c8" textLength="16.20" lengthAdjust="spacingAndGlyphs" >+/-48</text>
<text x="289.67" y="232.17" font-size="8.2" fill="#ddf4c8" stroke="#ddf4c8" stroke-width="0.08" >1</text>
<text x="289.67" y="239.57" font-size="5.9" fill="#ddf4c8" textLength="16.20" lengthAdjust="spacingAndGlyphs" >+/-29</text>
<text x="318.13" y="232.17" font-size="8.2" fill="#ddf4c8" stroke="#ddf4c8" stroke-width="0.08" >2</text>
<text x="318.13" y="239.57" font-size="5.9" fill="#ddf4c8" textLength="16.20" lengthAdjust="spacingAndGlyphs" >+/-43</text>
<line x1="285.67" y1="176.40" x2="285.67" y2="246.25" stroke="#1a2412" stroke-width="1.0" />
<line x1="257.20" y1="199.68" x2="342.60" y2="199.68" stroke="#1a2412" stroke-width="1.0" />
<line x1="314.13" y1="176.40" x2="314.13" y2="246.25" stroke="#1a2412" stroke-width="1.0" />
<line x1="257.20" y1="222.97" x2="342.60" y2="222.97" stroke="#1a2412" stroke-width="1.0" />
<rect x="257.20" y="176.40" width="85.40" height="69.85" fill="none" stroke="#1a2412" stroke-width="1.1"/>
<rect x="346.00" y="175.80" width="6.3" height="70.90" fill="url(#cbar)" stroke="#333" stroke-width="0.5"/>
<text x="356.60" y="171.00" font-size="8.2" fill="#2a2a2a" stroke="#2a2a2a" stroke-width="0.1" textLength="26.10" lengthAdjust="spacingAndGlyphs" transform="rotate(90 356.60 171.00)" >Synergy</text>
<text x="356.60" y="205.20" font-size="8.2" fill="#2a2a2a" stroke="#2a2a2a" stroke-width="0.1" textLength="37.90" lengthAdjust="spacingAndGlyphs" transform="rotate(90 356.60 205.20)" >Antagonism</text>
<text x="450.70" y="148.20" font-size="9.0" fill="#2a2a2a" stroke="#2a2a2a" stroke-width="0.22" text-anchor="middle" textLength="62.50" lengthAdjust="spacingAndGlyphs" >Z-138 Resistant</text>
<text x="450.70" y="160.10" font-size="7.8" fill="#2a2a2a" stroke="#2a2a2a" stroke-width="0.22" text-anchor="middle" textLength="48.10" lengthAdjust="spacingAndGlyphs" >PRT-382 [nM]</text>
<text x="405.80" y="171.80" font-size="7.2" fill="#2a2a2a" stroke="#2a2a2a" stroke-width="0.22" text-anchor="end" textLength="18.60" lengthAdjust="spacingAndGlyphs" >N = 3</text>
<text x="422.70" y="171.90" font-size="7.6" fill="#2a2a2a" stroke="#2a2a2a" stroke-width="0.22" text-anchor="middle" >100</text>
<text x="451.10" y="171.90" font-size="7.6" fill="#2a2a2a" stroke="#2a2a2a" stroke-width="0.22" text-anchor="middle" >150</text>
<text x="479.60" y="171.90" font-size="7.6" fill="#2a2a2a" stroke="#2a2a2a" stroke-width="0.22" text-anchor="middle" >200</text>
<text x="405.90" y="190.80" font-size="8.6" fill="#2a2a2a" stroke="#2a2a2a" stroke-width="0.22" text-anchor="end" >5</text>
<text x="405.90" y="214.00" font-size="8.6" fill="#2a2a2a" stroke="#2a2a2a" stroke-width="0.22" text-anchor="end" >50</text>
<text x="405.90" y="237.10" font-size="8.6" fill="#2a2a2a" stroke="#2a2a2a" stroke-width="0.22" text-anchor="end" >500</text>
<text x="384.80" y="211.30" font-size="9.2" fill="#2a2a2a" stroke="#2a2a2a" stroke-width="0.22" text-anchor="middle" textLength="51.40" lengthAdjust="spacingAndGlyphs" transform="rotate(-90 384.80 211.30)" >Temsirolimus [nM]</text>
<rect x="408.00" y="176.20" width="28.37" height="23.37" fill="#8ac64e" />
<rect x="436.37" y="176.20" width="28.37" height="23.37" fill="#8ac64e" />
<rect x="464.73" y="176.20" width="28.37" height="23.37" fill="#8ac64e" />
<rect x="408.00" y="199.57" width="28.37" height="23.37" fill="#3c2a9c" />
<rect x="436.37" y="199.57" width="28.37" height="23.37" fill="#3c2a9c" />
<rect x="464.73" y="199.57" width="28.37" height="23.37" fill="#8ac64e" />
<rect x="408.00" y="222.93" width="28.37" height="23.37" fill="#3c2a9c" />
<rect x="436.37" y="222.93" width="28.37" height="23.37" fill="#8ac64e" />
<rect x="464.73" y="222.93" width="28.37" height="23.37" fill="#8ac64e" />
<text x="411.80" y="185.40" font-size="8.2" fill="#ddf4c8" stroke="#ddf4c8" stroke-width="0.08" >10</text>
<text x="411.80" y="192.80" font-size="5.9" fill="#ddf4c8" textLength="16.20" lengthAdjust="spacingAndGlyphs" >+/-12</text>
<text x="440.17" y="185.40" font-size="8.2" fill="#ddf4c8" stroke="#ddf4c8" stroke-width="0.08" >16</text>
<text x="440.17" y="192.80" font-size="5.9" fill="#ddf4c8" textLength="16.20" lengthAdjust="spacingAndGlyphs" >+/-14</text>
<text x="468.53" y="185.40" font-size="8.2" fill="#ddf4c8" stroke="#ddf4c8" stroke-width="0.08" >9</text>
<text x="468.53" y="192.80" font-size="5.9" fill="#ddf4c8" textLength="16.20" lengthAdjust="spacingAndGlyphs" >+/-12</text>
<text x="411.80" y="208.77" font-size="8.2" fill="#ececff" stroke="#ececff" stroke-width="0.08" >27</text>
<text x="411.80" y="216.17" font-size="5.9" fill="#ececff" textLength="13.00" lengthAdjust="spacingAndGlyphs" >+/-6</text>
<text x="422.28" y="223.57" font-size="6.0" fill="#ececff" stroke="#ececff" stroke-width="0.22" text-anchor="middle" >*</text>
<text x="440.17" y="208.77" font-size="8.2" fill="#ececff" stroke="#ececff" stroke-width="0.08" >30</text>
<text x="440.17" y="216.17" font-size="5.9" fill="#ececff" textLength="13.00" lengthAdjust="spacingAndGlyphs" >+/-8</text>
<text x="450.65" y="223.57" font-size="6.0" fill="#ececff" stroke="#ececff" stroke-width="0.22" text-anchor="middle" >*</text>
<text x="468.53" y="208.77" font-size="8.2" fill="#ddf4c8" stroke="#ddf4c8" stroke-width="0.08" >12</text>
<text x="468.53" y="216.17" font-size="5.9" fill="#ddf4c8" textLength="13.00" lengthAdjust="spacingAndGlyphs" >+/-8</text>
<text x="411.80" y="232.13" font-size="8.2" fill="#ececff" stroke="#ececff" stroke-width="0.08" >33</text>
<text x="411.80" y="239.53" font-size="5.9" fill="#ececff" textLength="16.20" lengthAdjust="spacingAndGlyphs" >+/-12</text>
<text x="422.28" y="246.93" font-size="6.0" fill="#ececff" stroke="#ececff" stroke-width="0.22" text-anchor="middle" >*</text>
<text x="440.17" y="232.13" font-size="8.2" fill="#ddf4c8" stroke="#ddf4c8" stroke-width="0.08" >32</text>
<text x="440.17" y="239.53" font-size="5.9" fill="#ddf4c8" textLength="16.20" lengthAdjust="spacingAndGlyphs" >+/-15</text>
<text x="468.53" y="232.13" font-size="8.2" fill="#ddf4c8" stroke="#ddf4c8" stroke-width="0.08" >13</text>
<text x="468.53" y="239.53" font-size="5.9" fill="#ddf4c8" textLength="16.20" lengthAdjust="spacingAndGlyphs" >+/-13</text>
<line x1="436.37" y1="176.20" x2="436.37" y2="246.30" stroke="#1a2412" stroke-width="1.0" />
<line x1="408.00" y1="199.57" x2="493.10" y2="199.57" stroke="#1a2412" stroke-width="1.0" />
<line x1="464.73" y1="176.20" x2="464.73" y2="246.30" stroke="#1a2412" stroke-width="1.0" />
<line x1="408.00" y1="222.93" x2="493.10" y2="222.93" stroke="#1a2412" stroke-width="1.0" />
<rect x="408.00" y="176.20" width="85.10" height="70.10" fill="none" stroke="#1a2412" stroke-width="1.1"/>
<rect x="497.10" y="175.70" width="6.3" height="71.00" fill="url(#cbar)" stroke="#333" stroke-width="0.5"/>
<text x="506.60" y="171.00" font-size="8.2" fill="#2a2a2a" stroke="#2a2a2a" stroke-width="0.1" textLength="26.10" lengthAdjust="spacingAndGlyphs" transform="rotate(90 506.60 171.00)" >Synergy</text>
<text x="506.60" y="205.20" font-size="8.2" fill="#2a2a2a" stroke="#2a2a2a" stroke-width="0.1" textLength="38.10" lengthAdjust="spacingAndGlyphs" transform="rotate(90 506.60 205.20)" >Antagonism</text>
<rect x="54.40" y="399.00" width="6.60" height="27.00" fill="#1a4c8a" />
<rect x="66.00" y="372.20" width="6.80" height="53.80" fill="#cc0a2c" />
<line x1="69.40" y1="363.50" x2="69.40" y2="372.20" stroke="#555" stroke-width="0.9" />
<line x1="69.40" y1="372.20" x2="69.40" y2="379.50" stroke="#7a1020" stroke-width="0.9" />
<line x1="67.00" y1="363.50" x2="71.80" y2="363.50" stroke="#444" stroke-width="0.9" />
<rect x="86.60" y="399.00" width="6.70" height="27.00" fill="#1a4c8a" />
<rect x="98.90" y="365.20" width="6.40" height="60.80" fill="#cc0a2c" />
<line x1="102.10" y1="351.20" x2="102.10" y2="365.20" stroke="#555" stroke-width="0.9" />
<line x1="102.10" y1="365.20" x2="102.10" y2="377.50" stroke="#7a1020" stroke-width="0.9" />
<line x1="99.70" y1="351.20" x2="104.50" y2="351.20" stroke="#444" stroke-width="0.9" />
<rect x="118.90" y="399.00" width="6.80" height="27.00" fill="#1a4c8a" />
<rect x="130.90" y="396.00" width="7.00" height="30.00" fill="#cc0a2c" />
<line x1="134.40" y1="388.70" x2="134.40" y2="396.00" stroke="#555" stroke-width="0.9" />
<line x1="134.40" y1="396.00" x2="134.40" y2="401.80" stroke="#7a1020" stroke-width="0.9" />
<line x1="132.00" y1="388.70" x2="136.80" y2="388.70" stroke="#444" stroke-width="0.9" />
<rect x="151.40" y="399.00" width="6.90" height="27.00" fill="#1a4c8a" />
<rect x="163.50" y="387.80" width="7.00" height="38.20" fill="#cc0a2c" />
<line x1="167.00" y1="378.50" x2="167.00" y2="387.80" stroke="#555" stroke-width="0.9" />
<line x1="167.00" y1="387.80" x2="167.00" y2="396.50" stroke="#7a1020" stroke-width="0.9" />
<line x1="164.60" y1="378.50" x2="169.40" y2="378.50" stroke="#444" stroke-width="0.9" />
<polyline points="57.10,393.00 57.10,341.6 69.40,341.6 69.40,359.50" fill="none" stroke="#8a8a8a" stroke-width="0.8"/>
<text x="63.30" y="340.60" font-size="6.5" fill="#2a2a2a" stroke="#2a2a2a" stroke-width="0.22" text-anchor="middle" >*</text>
<polyline points="89.70,393.00 89.70,341.6 102.10,341.6 102.10,346.50" fill="none" stroke="#8a8a8a" stroke-width="0.8"/>
<text x="95.90" y="340.60" font-size="6.5" fill="#2a2a2a" stroke="#2a2a2a" stroke-width="0.22" text-anchor="middle" >**</text>
<line x1="49.00" y1="339.40" x2="49.00" y2="426.60" stroke="#444" stroke-width="1.2" />
<line x1="48.40" y1="426.00" x2="176.00" y2="426.00" stroke="#444" stroke-width="1.2" />
<line x1="46.40" y1="426.00" x2="49.00" y2="426.00" stroke="#444" stroke-width="0.9" />
<text x="43.60" y="428.50" font-size="7.2" fill="#2a2a2a" stroke="#2a2a2a" stroke-width="0.22" text-anchor="end" >0</text>
<line x1="46.40" y1="397.95" x2="49.00" y2="397.95" stroke="#444" stroke-width="0.9" />
<text x="43.60" y="400.45" font-size="7.2" fill="#2a2a2a" stroke="#2a2a2a" stroke-width="0.22" text-anchor="end" >1</text>
<line x1="46.40" y1="369.90" x2="49.00" y2="369.90" stroke="#444" stroke-width="0.9" />
<text x="43.60" y="372.40" font-size="7.2" fill="#2a2a2a" stroke="#2a2a2a" stroke-width="0.22" text-anchor="end" >2</text>
<line x1="46.40" y1="341.85" x2="49.00" y2="341.85" stroke="#444" stroke-width="0.9" />
<text x="43.60" y="344.35" font-size="7.2" fill="#2a2a2a" stroke="#2a2a2a" stroke-width="0.22" text-anchor="end" >3</text>
<line x1="63.10" y1="426.00" x2="63.10" y2="428.30" stroke="#444" stroke-width="0.9" />
<line x1="96.00" y1="426.00" x2="96.00" y2="428.30" stroke="#444" stroke-width="0.9" />
<line x1="128.60" y1="426.00" x2="128.60" y2="428.30" stroke="#444" stroke-width="0.9" />
<line x1="160.40" y1="426.00" x2="160.40" y2="428.30" stroke="#444" stroke-width="0.9" />
<text x="63.00" y="438.90" font-size="7.6" fill="#2a2a2a" stroke="#2a2a2a" stroke-width="0.22" text-anchor="middle" textLength="17.90" lengthAdjust="spacingAndGlyphs" >SP53</text>
<text x="95.80" y="438.90" font-size="7.6" fill="#2a2a2a" stroke="#2a2a2a" stroke-width="0.22" text-anchor="middle" textLength="19.80" lengthAdjust="spacingAndGlyphs" >Z-138</text>
<text x="127.90" y="438.90" font-size="7.6" fill="#2a2a2a" stroke="#2a2a2a" stroke-width="0.22" text-anchor="middle" textLength="26.90" lengthAdjust="spacingAndGlyphs" >CCMCL</text>
<text x="160.40" y="438.90" font-size="7.6" fill="#2a2a2a" stroke="#2a2a2a" stroke-width="0.22" text-anchor="middle" textLength="21.60" lengthAdjust="spacingAndGlyphs" >REC-1</text>
<text x="112.20" y="450.60" font-size="8.6" fill="#2a2a2a" stroke="#2a2a2a" stroke-width="0.35" text-anchor="middle" textLength="24.70" lengthAdjust="spacingAndGlyphs" >Cell lines</text>
<text x="112.50" y="331.60" font-size="8.6" fill="#2a2a2a" stroke="#2a2a2a" stroke-width="0.22" text-anchor="middle" textLength="38.60" lengthAdjust="spacingAndGlyphs" >p-p70S6k</text>
<text x="33.80" y="382.30" font-size="8.2" fill="#2a2a2a" stroke="#2a2a2a" stroke-width="0.3" text-anchor="middle" textLength="83.40" lengthAdjust="spacingAndGlyphs" transform="rotate(-90 33.80 382.30)" >Normalized protein expression</text>
<rect x="70.30" y="459.70" width="5.10" height="5.30" fill="#1a4c8a" />
<text x="78.70" y="465.00" font-size="7.6" fill="#2a2a2a" stroke="#2a2a2a" stroke-width="0.22" textLength="28.80" lengthAdjust="spacingAndGlyphs" >Sensitive</text>
<rect x="116.90" y="459.70" width="5.20" height="5.30" fill="#cc0a2c" />
<text x="125.00" y="465.00" font-size="7.6" fill="#2a2a2a" stroke="#2a2a2a" stroke-width="0.22" textLength="29.80" lengthAdjust="spacingAndGlyphs" >Resistant</text>
<defs><filter id="bl" x="-20%" y="-200%" width="140%" height="500%"><feGaussianBlur stdDeviation="0.6"/></filter><filter id="bl2" x="-10%" y="-10%" width="120%" height="120%"><feGaussianBlur stdDeviation="0.4"/></filter><filter id="bl3" x="-20%" y="-300%" width="140%" height="700%"><feGaussianBlur stdDeviation="1.0"/></filter></defs>
<text x="283.00" y="331.30" font-size="8.8" fill="#2a2a2a" stroke="#2a2a2a" stroke-width="0.22" text-anchor="middle" textLength="21.80" lengthAdjust="spacingAndGlyphs" >SP53</text>
<line x1="272.10" y1="331.90" x2="293.90" y2="331.90" stroke="#3a3a3a" stroke-width="0.6" />
<text x="283.00" y="341.60" font-size="8.8" fill="#2a2a2a" stroke="#2a2a2a" stroke-width="0.22" text-anchor="middle" textLength="35.00" lengthAdjust="spacingAndGlyphs" >Sensitive</text>
<line x1="265.50" y1="342.80" x2="300.50" y2="342.80" stroke="#3a3a3a" stroke-width="0.6" />
<text x="343.70" y="331.30" font-size="8.8" fill="#2a2a2a" stroke="#2a2a2a" stroke-width="0.22" text-anchor="middle" textLength="22.50" lengthAdjust="spacingAndGlyphs" >SP53</text>
<line x1="332.45" y1="331.90" x2="354.95" y2="331.90" stroke="#3a3a3a" stroke-width="0.6" />
<text x="343.70" y="341.60" font-size="8.8" fill="#2a2a2a" stroke="#2a2a2a" stroke-width="0.22" text-anchor="middle" textLength="35.80" lengthAdjust="spacingAndGlyphs" >Resistant</text>
<line x1="325.80" y1="342.80" x2="361.60" y2="342.80" stroke="#3a3a3a" stroke-width="0.6" />
<text x="414.40" y="331.30" font-size="8.8" fill="#2a2a2a" stroke="#2a2a2a" stroke-width="0.22" text-anchor="middle" textLength="24.80" lengthAdjust="spacingAndGlyphs" >Z-138</text>
<line x1="402.00" y1="331.90" x2="426.80" y2="331.90" stroke="#3a3a3a" stroke-width="0.6" />
<text x="414.40" y="341.60" font-size="8.8" fill="#2a2a2a" stroke="#2a2a2a" stroke-width="0.22" text-anchor="middle" textLength="35.10" lengthAdjust="spacingAndGlyphs" >Sensitive</text>
<line x1="396.85" y1="342.80" x2="431.95" y2="342.80" stroke="#3a3a3a" stroke-width="0.6" />
<text x="478.00" y="331.30" font-size="8.8" fill="#2a2a2a" stroke="#2a2a2a" stroke-width="0.22" text-anchor="middle" textLength="24.70" lengthAdjust="spacingAndGlyphs" >Z-138</text>
<line x1="465.65" y1="331.90" x2="490.35" y2="331.90" stroke="#3a3a3a" stroke-width="0.6" />
<text x="478.00" y="341.60" font-size="8.8" fill="#2a2a2a" stroke="#2a2a2a" stroke-width="0.22" text-anchor="middle" textLength="35.60" lengthAdjust="spacingAndGlyphs" >Resistant</text>
<line x1="460.20" y1="342.80" x2="495.80" y2="342.80" stroke="#3a3a3a" stroke-width="0.6" />
<text x="250.40" y="354.90" font-size="7.6" fill="#2a2a2a" stroke="#2a2a2a" stroke-width="0.22" text-anchor="end" textLength="62.50" lengthAdjust="spacingAndGlyphs" >[Temsirolimus] (nM)</text>
<text x="250.30" y="364.20" font-size="7.6" fill="#2a2a2a" stroke="#2a2a2a" stroke-width="0.22" text-anchor="end" textLength="49.80" lengthAdjust="spacingAndGlyphs" >[PRT-382] (nM)</text>
<text x="261.00" y="354.90" font-size="7.4" fill="#2a2a2a" stroke="#2a2a2a" stroke-width="0.22" text-anchor="middle" >0</text>
<text x="261.00" y="364.40" font-size="7.4" fill="#2a2a2a" stroke="#2a2a2a" stroke-width="0.22" text-anchor="middle" >0</text>
<text x="391.00" y="354.90" font-size="7.4" fill="#2a2a2a" stroke="#2a2a2a" stroke-width="0.22" text-anchor="middle" >0</text>
<text x="391.00" y="364.40" font-size="7.4" fill="#2a2a2a" stroke="#2a2a2a" stroke-width="0.22" text-anchor="middle" >0</text>
<text x="276.75" y="354.90" font-size="7.4" fill="#2a2a2a" stroke="#2a2a2a" stroke-width="0.22" text-anchor="middle" >0</text>
<text x="276.75" y="364.40" font-size="7.4" fill="#2a2a2a" stroke="#2a2a2a" stroke-width="0.22" text-anchor="middle" >50</text>
<text x="407.20" y="354.90" font-size="7.4" fill="#2a2a2a" stroke="#2a2a2a" stroke-width="0.22" text-anchor="middle" >0</text>
<text x="407.20" y="364.40" font-size="7.4" fill="#2a2a2a" stroke="#2a2a2a" stroke-width="0.22" text-anchor="middle" >100</text>
<text x="292.50" y="354.90" font-size="7.4" fill="#2a2a2a" stroke="#2a2a2a" stroke-width="0.22" text-anchor="middle" >50</text>
<text x="292.50" y="364.40" font-size="7.4" fill="#2a2a2a" stroke="#2a2a2a" stroke-width="0.22" text-anchor="middle" >0</text>
<text x="423.40" y="354.90" font-size="7.4" fill="#2a2a2a" stroke="#2a2a2a" stroke-width="0.22" text-anchor="middle" >50</text>
<text x="423.40" y="364.40" font-size="7.4" fill="#2a2a2a" stroke="#2a2a2a" stroke-width="0.22" text-anchor="middle" >0</text>
<text x="308.25" y="354.90" font-size="7.4" fill="#2a2a2a" stroke="#2a2a2a" stroke-width="0.22" text-anchor="middle" >50</text>
<text x="308.25" y="364.40" font-size="7.4" fill="#2a2a2a" stroke="#2a2a2a" stroke-width="0.22" text-anchor="middle" >50</text>
<text x="439.60" y="354.90" font-size="7.4" fill="#2a2a2a" stroke="#2a2a2a" stroke-width="0.22" text-anchor="middle" >50</text>
<text x="439.60" y="364.40" font-size="7.4" fill="#2a2a2a" stroke="#2a2a2a" stroke-width="0.22" text-anchor="middle" >100</text>
<text x="324.00" y="354.90" font-size="7.4" fill="#2a2a2a" stroke="#2a2a2a" stroke-width="0.22" text-anchor="middle" >0</text>
<text x="324.00" y="364.40" font-size="7.4" fill="#2a2a2a" stroke="#2a2a2a" stroke-width="0.22" text-anchor="middle" >0</text>
<text x="455.80" y="354.90" font-size="7.4" fill="#2a2a2a" stroke="#2a2a2a" stroke-width="0.22" text-anchor="middle" >0</text>
<text x="455.80" y="364.40" font-size="7.4" fill="#2a2a2a" stroke="#2a2a2a" stroke-width="0.22" text-anchor="middle" >0</text>
<text x="339.75" y="354.90" font-size="7.4" fill="#2a2a2a" stroke="#2a2a2a" stroke-width="0.22" text-anchor="middle" >0</text>
<text x="339.75" y="364.40" font-size="7.4" fill="#2a2a2a" stroke="#2a2a2a" stroke-width="0.22" text-anchor="middle" >50</text>
<text x="472.00" y="354.90" font-size="7.4" fill="#2a2a2a" stroke="#2a2a2a" stroke-width="0.22" text-anchor="middle" >0</text>
<text x="472.00" y="364.40" font-size="7.4" fill="#2a2a2a" stroke="#2a2a2a" stroke-width="0.22" text-anchor="middle" >100</text>
<text x="355.50" y="354.90" font-size="7.4" fill="#2a2a2a" stroke="#2a2a2a" stroke-width="0.22" text-anchor="middle" >50</text>
<text x="355.50" y="364.40" font-size="7.4" fill="#2a2a2a" stroke="#2a2a2a" stroke-width="0.22" text-anchor="middle" >0</text>
<text x="488.20" y="354.90" font-size="7.4" fill="#2a2a2a" stroke="#2a2a2a" stroke-width="0.22" text-anchor="middle" >50</text>
<text x="488.20" y="364.40" font-size="7.4" fill="#2a2a2a" stroke="#2a2a2a" stroke-width="0.22" text-anchor="middle" >0</text>
<text x="371.25" y="354.90" font-size="7.4" fill="#2a2a2a" stroke="#2a2a2a" stroke-width="0.22" text-anchor="middle" >50</text>
<text x="371.25" y="364.40" font-size="7.4" fill="#2a2a2a" stroke="#2a2a2a" stroke-width="0.22" text-anchor="middle" >50</text>
<text x="504.40" y="354.90" font-size="7.4" fill="#2a2a2a" stroke="#2a2a2a" stroke-width="0.22" text-anchor="middle" >50</text>
<text x="504.40" y="364.40" font-size="7.4" fill="#2a2a2a" stroke="#2a2a2a" stroke-width="0.22" text-anchor="middle" >100</text>
<text x="205.20" y="378.50" font-size="7.7" fill="#2a2a2a" stroke="#2a2a2a" stroke-width="0.15" textLength="32.30" lengthAdjust="spacingAndGlyphs" >p-p70S6k</text>
<text x="238.00" y="379.50" font-size="5.2" fill="#2a2a2a" stroke="#2a2a2a" stroke-width="0.1" textLength="12.70" lengthAdjust="spacingAndGlyphs" >T389</text>
<text x="250.30" y="400.70" font-size="8.2" fill="#2a2a2a" stroke="#2a2a2a" stroke-width="0.22" text-anchor="end" textLength="26.60" lengthAdjust="spacingAndGlyphs" >GAPDH</text>
<text x="250.30" y="419.10" font-size="8.2" fill="#2a2a2a" stroke="#2a2a2a" stroke-width="0.22" text-anchor="end" textLength="25.40" lengthAdjust="spacingAndGlyphs" >p70S6k</text>
<text x="250.30" y="435.50" font-size="8.2" fill="#2a2a2a" stroke="#2a2a2a" stroke-width="0.22" text-anchor="end" textLength="26.60" lengthAdjust="spacingAndGlyphs" >GAPDH</text>
<text x="261.60" y="390.90" font-size="7.4" fill="#2a2a2a" stroke="#2a2a2a" stroke-width="0.22" text-anchor="middle" >1.0</text>
<text x="391.40" y="390.70" font-size="7.4" fill="#2a2a2a" stroke="#2a2a2a" stroke-width="0.22" text-anchor="middle" >1.0</text>
<text x="277.35" y="390.90" font-size="7.4" fill="#2a2a2a" stroke="#2a2a2a" stroke-width="0.22" text-anchor="middle" >1.1</text>
<text x="407.60" y="390.70" font-size="7.4" fill="#2a2a2a" stroke="#2a2a2a" stroke-width="0.22" text-anchor="middle" >8.1</text>
<text x="293.10" y="390.90" font-size="7.4" fill="#2a2a2a" stroke="#2a2a2a" stroke-width="0.22" text-anchor="middle" >0.5</text>
<text x="423.80" y="390.70" font-size="7.4" fill="#2a2a2a" stroke="#2a2a2a" stroke-width="0.22" text-anchor="middle" >3.0</text>
<text x="308.85" y="390.90" font-size="7.4" fill="#2a2a2a" stroke="#2a2a2a" stroke-width="0.22" text-anchor="middle" >0.7</text>
<text x="440.00" y="390.70" font-size="7.4" fill="#2a2a2a" stroke="#2a2a2a" stroke-width="0.22" text-anchor="middle" >1.3</text>
<text x="324.60" y="390.90" font-size="7.4" fill="#2a2a2a" stroke="#2a2a2a" stroke-width="0.22" text-anchor="middle" >1.2</text>
<text x="456.20" y="390.70" font-size="7.4" fill="#2a2a2a" stroke="#2a2a2a" stroke-width="0.22" text-anchor="middle" >2.8</text>
<text x="340.35" y="390.90" font-size="7.4" fill="#2a2a2a" stroke="#2a2a2a" stroke-width="0.22" text-anchor="middle" >1.6</text>
<text x="472.40" y="390.70" font-size="7.4" fill="#2a2a2a" stroke="#2a2a2a" stroke-width="0.22" text-anchor="middle" >4.1</text>
<text x="356.10" y="390.90" font-size="7.4" fill="#2a2a2a" stroke="#2a2a2a" stroke-width="0.22" text-anchor="middle" >0.9</text>
<text x="488.60" y="390.70" font-size="7.4" fill="#2a2a2a" stroke="#2a2a2a" stroke-width="0.22" text-anchor="middle" >1.4</text>
<text x="371.85" y="390.90" font-size="7.4" fill="#2a2a2a" stroke="#2a2a2a" stroke-width="0.22" text-anchor="middle" >0.9</text>
<text x="504.80" y="390.70" font-size="7.4" fill="#2a2a2a" stroke="#2a2a2a" stroke-width="0.22" text-anchor="middle" >0.4</text>
<rect x="253.10" y="368.80" width="127.30" height="13.00" fill="#d2d2d2"/>
<rect x="253.10" y="368.80" width="127.30" height="5.85" fill="#cfcfcf" opacity="0.5"/>
<g filter="url(#bl)"><rect x="253.10" y="369.60" width="127.30" height="1.20" fill="#c8c8c8"/><rect x="253.10" y="379.00" width="127.30" height="1.60" fill="#cccccc"/></g>
<rect x="268.20" y="368.80" width="1.6" height="13.00" fill="#e4e4e4" opacity="0.55"/><rect x="283.80" y="368.80" width="1.6" height="13.00" fill="#e4e4e4" opacity="0.55"/><rect x="299.45" y="368.80" width="1.6" height="13.00" fill="#e4e4e4" opacity="0.55"/><rect x="315.25" y="368.80" width="1.6" height="13.00" fill="#e4e4e4" opacity="0.55"/><rect x="331.25" y="368.80" width="1.6" height="13.00" fill="#e4e4e4" opacity="0.55"/><rect x="347.00" y="368.80" width="1.6" height="13.00" fill="#e4e4e4" opacity="0.55"/><rect x="362.50" y="368.80" width="1.6" height="13.00" fill="#e4e4e4" opacity="0.55"/>
<g filter="url(#bl3)"><rect x="255.21" y="374.00" width="12.19" height="3.00" rx="1.5" fill="#9a9a9a" opacity="0.55"/><rect x="270.60" y="373.80" width="12.19" height="3.60" rx="1.5" fill="#9a9a9a" opacity="0.55"/><rect x="317.82" y="373.50" width="12.56" height="3.60" rx="1.5" fill="#9a9a9a" opacity="0.55"/><rect x="333.90" y="373.85" width="12.19" height="3.50" rx="1.5" fill="#9a9a9a" opacity="0.55"/></g>
<g filter="url(#bl)"><rect x="255.81" y="370.70" width="10.98" height="1.00" rx="0.50" fill="#cccccc"/><rect x="255.51" y="374.70" width="11.59" height="1.60" rx="0.80" fill="#484848"/><rect x="271.21" y="370.70" width="10.98" height="1.00" rx="0.50" fill="#c8c8c8"/><rect x="270.90" y="374.50" width="11.59" height="2.20" rx="1.10" fill="#121212"/><rect x="271.21" y="379.30" width="10.98" height="1.40" rx="0.70" fill="#cbcbcb"/><rect x="287.01" y="371.00" width="10.98" height="1.00" rx="0.50" fill="#cdcdcd"/><rect x="287.01" y="375.55" width="10.98" height="1.50" rx="0.75" fill="#bbbbbb"/><rect x="302.51" y="371.00" width="10.98" height="1.00" rx="0.50" fill="#cacaca"/><rect x="302.20" y="374.95" width="11.59" height="1.70" rx="0.85" fill="#808080"/><rect x="318.31" y="370.60" width="11.59" height="1.20" rx="0.60" fill="#a9a9a9"/><rect x="318.12" y="374.20" width="11.96" height="2.20" rx="1.10" fill="#0e0e0e"/><rect x="334.51" y="371.00" width="10.98" height="1.00" rx="0.50" fill="#c0c0c0"/><rect x="334.20" y="374.55" width="11.59" height="2.10" rx="1.05" fill="#262626"/><rect x="349.81" y="375.60" width="11.59" height="2.00" rx="1.00" fill="#6e6e6e"/><rect x="365.51" y="374.35" width="10.98" height="1.30" rx="0.65" fill="#bbbbbb"/></g>
<rect x="253.10" y="392.60" width="127.30" height="12.20" fill="#dbdbdb"/>
<rect x="269.75" y="392.60" width="1.6" height="12.20" fill="#e4e4e4" opacity="0.55"/><rect x="285.00" y="392.60" width="1.6" height="12.20" fill="#e4e4e4" opacity="0.55"/><rect x="300.20" y="392.60" width="1.6" height="12.20" fill="#e4e4e4" opacity="0.55"/><rect x="315.70" y="392.60" width="1.6" height="12.20" fill="#e4e4e4" opacity="0.55"/><rect x="331.50" y="392.60" width="1.6" height="12.20" fill="#e4e4e4" opacity="0.55"/><rect x="347.05" y="392.60" width="1.6" height="12.20" fill="#e4e4e4" opacity="0.55"/><rect x="362.45" y="392.60" width="1.6" height="12.20" fill="#e4e4e4" opacity="0.55"/>
<g filter="url(#bl3)"><rect x="256.20" y="398.50" width="13.60" height="2.60" rx="1.5" fill="#9a9a9a" opacity="0.55"/><rect x="271.30" y="398.50" width="13.60" height="2.60" rx="1.5" fill="#9a9a9a" opacity="0.55"/><rect x="286.70" y="398.40" width="13.60" height="2.60" rx="1.5" fill="#9a9a9a" opacity="0.55"/><rect x="301.70" y="398.20" width="13.60" height="2.60" rx="1.5" fill="#9a9a9a" opacity="0.55"/><rect x="317.70" y="398.15" width="13.60" height="2.70" rx="1.5" fill="#9a9a9a" opacity="0.55"/><rect x="333.30" y="398.30" width="13.60" height="2.60" rx="1.5" fill="#9a9a9a" opacity="0.55"/><rect x="348.80" y="398.20" width="13.60" height="2.60" rx="1.5" fill="#9a9a9a" opacity="0.55"/><rect x="364.10" y="397.55" width="13.60" height="2.70" rx="1.5" fill="#9a9a9a" opacity="0.55"/></g>
<g filter="url(#bl)"><rect x="258.00" y="395.60" width="10.00" height="0.80" rx="0.40" fill="#d1d1d1"/><rect x="256.50" y="398.90" width="13.00" height="1.80" rx="0.90" fill="#0e0e0e"/><rect x="273.10" y="395.60" width="10.00" height="0.80" rx="0.40" fill="#cfcfcf"/><rect x="271.60" y="398.90" width="13.00" height="1.80" rx="0.90" fill="#121212"/><rect x="288.50" y="395.60" width="10.00" height="0.80" rx="0.40" fill="#cdcdcd"/><rect x="287.00" y="398.80" width="13.00" height="1.80" rx="0.90" fill="#101010"/><rect x="303.50" y="395.60" width="10.00" height="0.80" rx="0.40" fill="#cbcbcb"/><rect x="302.00" y="398.60" width="13.00" height="1.80" rx="0.90" fill="#121212"/><rect x="309.25" y="401.65" width="1.50" height="1.30" rx="0.65" fill="#555"/><rect x="318.00" y="398.55" width="13.00" height="1.90" rx="0.95" fill="#0c0c0c"/><rect x="333.60" y="398.70" width="13.00" height="1.80" rx="0.90" fill="#101010"/><rect x="350.60" y="396.10" width="10.00" height="0.80" rx="0.40" fill="#cdcdcd"/><rect x="349.10" y="398.60" width="13.00" height="1.80" rx="0.90" fill="#101010"/><rect x="367.71" y="395.55" width="4.38" height="1.30" rx="0.65" fill="#7a7a7a"/><rect x="364.40" y="397.95" width="13.00" height="1.90" rx="0.95" fill="#121212"/></g>
<rect x="253.10" y="410.90" width="127.30" height="11.50" fill="#d9d9d9"/>
<rect x="253.10" y="410.90" width="127.30" height="5.17" fill="#d0d0d0" opacity="0.5"/>
<rect x="267.55" y="410.90" width="1.6" height="11.50" fill="#e4e4e4" opacity="0.55"/><rect x="283.40" y="410.90" width="1.6" height="11.50" fill="#e4e4e4" opacity="0.55"/><rect x="299.40" y="410.90" width="1.6" height="11.50" fill="#e4e4e4" opacity="0.55"/><rect x="315.55" y="410.90" width="1.6" height="11.50" fill="#e4e4e4" opacity="0.55"/><rect x="331.50" y="410.90" width="1.6" height="11.50" fill="#e4e4e4" opacity="0.55"/><rect x="347.05" y="410.90" width="1.6" height="11.50" fill="#e4e4e4" opacity="0.55"/><rect x="362.45" y="410.90" width="1.6" height="11.50" fill="#e4e4e4" opacity="0.55"/>
<g filter="url(#bl3)"><rect x="254.30" y="416.60" width="12.40" height="3.20" rx="1.5" fill="#9a9a9a" opacity="0.55"/><rect x="270.00" y="416.60" width="12.40" height="3.20" rx="1.5" fill="#9a9a9a" opacity="0.55"/><rect x="286.00" y="416.40" width="12.40" height="3.20" rx="1.5" fill="#9a9a9a" opacity="0.55"/><rect x="302.00" y="416.20" width="12.40" height="3.20" rx="1.5" fill="#9a9a9a" opacity="0.55"/><rect x="318.30" y="416.00" width="12.40" height="3.20" rx="1.5" fill="#9a9a9a" opacity="0.55"/><rect x="333.90" y="416.20" width="12.40" height="3.20" rx="1.5" fill="#9a9a9a" opacity="0.55"/><rect x="349.40" y="416.00" width="12.40" height="3.20" rx="1.5" fill="#9a9a9a" opacity="0.55"/><rect x="364.70" y="415.80" width="12.40" height="3.20" rx="1.5" fill="#9a9a9a" opacity="0.55"/></g>
<g filter="url(#bl)"><rect x="254.90" y="414.00" width="11.21" height="1.00" rx="0.50" fill="#c3c3c3"/><rect x="254.60" y="417.20" width="11.80" height="2.00" rx="1.00" fill="#4a4a4a"/><rect x="270.59" y="414.00" width="11.21" height="1.00" rx="0.50" fill="#c4c4c4"/><rect x="270.30" y="417.20" width="11.80" height="2.00" rx="1.00" fill="#424242"/><rect x="286.59" y="413.80" width="11.21" height="1.00" rx="0.50" fill="#c3c3c3"/><rect x="286.30" y="417.00" width="11.80" height="2.00" rx="1.00" fill="#404040"/><rect x="302.59" y="413.50" width="11.21" height="1.00" rx="0.50" fill="#bfbfbf"/><rect x="302.30" y="416.80" width="11.80" height="2.00" rx="1.00" fill="#444444"/><rect x="318.89" y="413.30" width="11.21" height="1.00" rx="0.50" fill="#bdbdbd"/><rect x="318.60" y="416.60" width="11.80" height="2.00" rx="1.00" fill="#3c3c3c"/><rect x="334.50" y="413.50" width="11.21" height="1.00" rx="0.50" fill="#c3c3c3"/><rect x="334.20" y="416.80" width="11.80" height="2.00" rx="1.00" fill="#444444"/><rect x="350.00" y="413.30" width="11.21" height="1.00" rx="0.50" fill="#bfbfbf"/><rect x="349.70" y="416.60" width="11.80" height="2.00" rx="1.00" fill="#404040"/><rect x="365.29" y="413.10" width="11.21" height="1.00" rx="0.50" fill="#bdbdbd"/><rect x="365.00" y="416.40" width="11.80" height="2.00" rx="1.00" fill="#3c3c3c"/></g>
<rect x="253.10" y="428.70" width="127.30" height="10.10" fill="#d9d9d9"/>
<rect x="253.10" y="428.70" width="127.30" height="4.55" fill="#cdcdcd" opacity="0.5"/>
<rect x="268.50" y="428.70" width="1.6" height="10.10" fill="#e4e4e4" opacity="0.55"/><rect x="283.85" y="428.70" width="1.6" height="10.10" fill="#e4e4e4" opacity="0.55"/><rect x="299.55" y="428.70" width="1.6" height="10.10" fill="#e4e4e4" opacity="0.55"/><rect x="315.05" y="428.70" width="1.6" height="10.10" fill="#e4e4e4" opacity="0.55"/><rect x="330.70" y="428.70" width="1.6" height="10.10" fill="#e4e4e4" opacity="0.55"/><rect x="346.55" y="428.70" width="1.6" height="10.10" fill="#e4e4e4" opacity="0.55"/><rect x="362.00" y="428.70" width="1.6" height="10.10" fill="#e4e4e4" opacity="0.55"/>
<g filter="url(#bl3)"><rect x="254.75" y="431.00" width="14.10" height="3.80" rx="1.5" fill="#9a9a9a" opacity="0.55"/><rect x="269.75" y="431.00" width="14.10" height="3.80" rx="1.5" fill="#9a9a9a" opacity="0.55"/><rect x="285.45" y="431.00" width="14.10" height="3.80" rx="1.5" fill="#9a9a9a" opacity="0.55"/><rect x="301.15" y="431.00" width="14.10" height="3.80" rx="1.5" fill="#9a9a9a" opacity="0.55"/><rect x="316.45" y="430.80" width="14.10" height="3.80" rx="1.5" fill="#9a9a9a" opacity="0.55"/><rect x="332.45" y="430.80" width="14.10" height="3.80" rx="1.5" fill="#9a9a9a" opacity="0.55"/><rect x="348.15" y="430.80" width="14.10" height="3.80" rx="1.5" fill="#9a9a9a" opacity="0.55"/><rect x="363.35" y="430.60" width="14.10" height="3.80" rx="1.5" fill="#9a9a9a" opacity="0.55"/></g>
<g filter="url(#bl)"><rect x="255.05" y="431.60" width="13.50" height="2.60" rx="1.20" fill="#0c0c0c"/><rect x="270.05" y="431.60" width="13.50" height="2.60" rx="1.20" fill="#101010"/><rect x="285.75" y="431.60" width="13.50" height="2.60" rx="1.20" fill="#0e0e0e"/><rect x="301.45" y="431.60" width="13.50" height="2.60" rx="1.20" fill="#0e0e0e"/><rect x="316.75" y="431.40" width="13.50" height="2.60" rx="1.20" fill="#0c0c0c"/><rect x="332.75" y="431.40" width="13.50" height="2.60" rx="1.20" fill="#101010"/><rect x="348.45" y="431.40" width="13.50" height="2.60" rx="1.20" fill="#0e0e0e"/><rect x="363.65" y="431.20" width="13.50" height="2.60" rx="1.20" fill="#0e0e0e"/></g>
<rect x="384.20" y="368.60" width="127.60" height="13.20" fill="#c8c8c8"/>
<rect x="384.20" y="368.60" width="127.60" height="5.94" fill="#c0c0c0" opacity="0.5"/>
<g filter="url(#bl)"><rect x="384.20" y="369.10" width="127.60" height="1.40" fill="#b4b4b4"/><rect x="384.20" y="371.40" width="127.60" height="1.20" fill="#bababa"/><rect x="384.20" y="375.10" width="127.60" height="1.00" fill="#c0c0c0"/></g>
<rect x="399.15" y="368.60" width="1.6" height="13.20" fill="#d8d8d8" opacity="0.55"/><rect x="415.05" y="368.60" width="1.6" height="13.20" fill="#d8d8d8" opacity="0.55"/><rect x="431.05" y="368.60" width="1.6" height="13.20" fill="#d8d8d8" opacity="0.55"/><rect x="447.15" y="368.60" width="1.6" height="13.20" fill="#d8d8d8" opacity="0.55"/><rect x="463.40" y="368.60" width="1.6" height="13.20" fill="#d8d8d8" opacity="0.55"/><rect x="479.65" y="368.60" width="1.6" height="13.20" fill="#d8d8d8" opacity="0.55"/><rect x="495.90" y="368.60" width="1.6" height="13.20" fill="#d8d8d8" opacity="0.55"/>
<g filter="url(#bl3)"><rect x="401.20" y="375.95" width="13.60" height="4.90" rx="1.5" fill="#9a9a9a" opacity="0.55"/><rect x="416.90" y="376.35" width="13.60" height="4.10" rx="1.5" fill="#9a9a9a" opacity="0.55"/><rect x="449.10" y="375.50" width="13.60" height="4.40" rx="1.5" fill="#9a9a9a" opacity="0.55"/><rect x="465.70" y="375.35" width="13.60" height="4.70" rx="1.5" fill="#9a9a9a" opacity="0.55"/></g>
<g filter="url(#bl)"><rect x="385.72" y="370.15" width="12.35" height="1.10" rx="0.55" fill="#b7b7b7"/><rect x="386.05" y="373.50" width="11.70" height="1.00" rx="0.50" fill="#c2c2c2"/><rect x="387.38" y="377.75" width="11.05" height="1.70" rx="0.85" fill="#7e7e7e"/><rect x="401.82" y="370.35" width="12.35" height="1.10" rx="0.55" fill="#aaaaaa"/><rect x="401.50" y="373.55" width="13.00" height="1.90" rx="0.95" fill="#606060"/><rect x="401.50" y="376.75" width="13.00" height="3.30" rx="1.20" fill="#050505"/><rect x="417.52" y="370.35" width="12.35" height="1.10" rx="0.55" fill="#b3b3b3"/><rect x="417.20" y="373.65" width="13.00" height="1.70" rx="0.85" fill="#6e6e6e"/><rect x="417.20" y="377.15" width="13.00" height="2.50" rx="1.20" fill="#101010"/><rect x="434.15" y="370.50" width="11.70" height="1.00" rx="0.50" fill="#c4c4c4"/><rect x="434.15" y="376.50" width="11.70" height="3.00" rx="1.20" fill="#c0c0c0"/><rect x="449.72" y="370.35" width="12.35" height="1.10" rx="0.55" fill="#b2b2b2"/><rect x="449.40" y="373.00" width="13.00" height="1.80" rx="0.90" fill="#707070"/><rect x="449.40" y="376.30" width="13.00" height="2.80" rx="1.20" fill="#0c0c0c"/><rect x="466.32" y="370.35" width="12.35" height="1.10" rx="0.55" fill="#b2b2b2"/><rect x="466.00" y="373.00" width="13.00" height="1.80" rx="0.90" fill="#646464"/><rect x="466.00" y="376.15" width="13.00" height="3.10" rx="1.20" fill="#080808"/><rect x="482.55" y="374.30" width="11.70" height="1.00" rx="0.50" fill="#c2c2c2"/><rect x="482.22" y="376.05" width="12.35" height="1.90" rx="0.95" fill="#787878"/><rect x="499.15" y="373.00" width="11.70" height="1.00" rx="0.50" fill="#c8c8c8"/><rect x="499.15" y="375.20" width="11.70" height="1.60" rx="0.80" fill="#959595"/></g>
<rect x="384.20" y="392.60" width="128.00" height="11.20" fill="#d9d9d9"/>
<rect x="384.20" y="392.60" width="128.00" height="5.04" fill="#d0d0d0" opacity="0.5"/>
<rect x="398.55" y="392.60" width="1.6" height="11.20" fill="#e4e4e4" opacity="0.55"/><rect x="414.40" y="392.60" width="1.6" height="11.20" fill="#e4e4e4" opacity="0.55"/><rect x="430.25" y="392.60" width="1.6" height="11.20" fill="#e4e4e4" opacity="0.55"/><rect x="446.25" y="392.60" width="1.6" height="11.20" fill="#e4e4e4" opacity="0.55"/><rect x="462.50" y="392.60" width="1.6" height="11.20" fill="#e4e4e4" opacity="0.55"/><rect x="478.50" y="392.60" width="1.6" height="11.20" fill="#e4e4e4" opacity="0.55"/><rect x="494.70" y="392.60" width="1.6" height="11.20" fill="#e4e4e4" opacity="0.55"/>
<g filter="url(#bl3)"><rect x="385.05" y="396.05" width="12.90" height="3.30" rx="1.5" fill="#9a9a9a" opacity="0.55"/><rect x="400.75" y="396.25" width="12.90" height="3.30" rx="1.5" fill="#9a9a9a" opacity="0.55"/><rect x="416.75" y="396.20" width="12.90" height="3.40" rx="1.5" fill="#9a9a9a" opacity="0.55"/><rect x="432.45" y="396.25" width="12.90" height="3.30" rx="1.5" fill="#9a9a9a" opacity="0.55"/><rect x="448.75" y="396.25" width="12.90" height="3.30" rx="1.5" fill="#9a9a9a" opacity="0.55"/><rect x="464.95" y="396.25" width="12.90" height="3.30" rx="1.5" fill="#9a9a9a" opacity="0.55"/><rect x="480.75" y="396.05" width="12.90" height="3.30" rx="1.5" fill="#9a9a9a" opacity="0.55"/><rect x="497.35" y="395.15" width="12.90" height="3.50" rx="1.5" fill="#9a9a9a" opacity="0.55"/></g>
<g filter="url(#bl)"><rect x="385.35" y="396.65" width="12.30" height="2.10" rx="1.05" fill="#262626"/><rect x="401.05" y="396.85" width="12.30" height="2.10" rx="1.05" fill="#2e2e2e"/><rect x="417.05" y="396.80" width="12.30" height="2.20" rx="1.10" fill="#2a2a2a"/><rect x="419.16" y="397.30" width="3.08" height="1.20" rx="0.60" fill="#e0e0e0"/><rect x="432.75" y="396.85" width="12.30" height="2.10" rx="1.05" fill="#2e2e2e"/><rect x="449.05" y="396.85" width="12.30" height="2.10" rx="1.05" fill="#2a2a2a"/><rect x="465.25" y="396.85" width="12.30" height="2.10" rx="1.05" fill="#2e2e2e"/><rect x="481.05" y="396.65" width="12.30" height="2.10" rx="1.05" fill="#2a2a2a"/><rect x="497.65" y="395.75" width="12.30" height="2.30" rx="1.15" fill="#0e0e0e"/></g>
<rect x="384.20" y="410.90" width="128.00" height="11.60" fill="#d9d9d9"/>
<rect x="384.20" y="410.90" width="128.00" height="5.22" fill="#d0d0d0" opacity="0.5"/>
<rect x="398.60" y="410.90" width="1.6" height="11.60" fill="#e4e4e4" opacity="0.55"/><rect x="414.55" y="410.90" width="1.6" height="11.60" fill="#e4e4e4" opacity="0.55"/><rect x="430.25" y="410.90" width="1.6" height="11.60" fill="#e4e4e4" opacity="0.55"/><rect x="446.25" y="410.90" width="1.6" height="11.60" fill="#e4e4e4" opacity="0.55"/><rect x="462.50" y="410.90" width="1.6" height="11.60" fill="#e4e4e4" opacity="0.55"/><rect x="478.50" y="410.90" width="1.6" height="11.60" fill="#e4e4e4" opacity="0.55"/><rect x="494.70" y="410.90" width="1.6" height="11.60" fill="#e4e4e4" opacity="0.55"/>
<g filter="url(#bl3)"><rect x="385.10" y="415.80" width="12.40" height="3.20" rx="1.5" fill="#9a9a9a" opacity="0.55"/><rect x="401.30" y="415.90" width="12.40" height="3.20" rx="1.5" fill="#9a9a9a" opacity="0.55"/><rect x="417.00" y="415.90" width="12.40" height="3.20" rx="1.5" fill="#9a9a9a" opacity="0.55"/><rect x="432.70" y="415.90" width="12.40" height="3.20" rx="1.5" fill="#9a9a9a" opacity="0.55"/><rect x="449.00" y="415.70" width="12.40" height="3.20" rx="1.5" fill="#9a9a9a" opacity="0.55"/><rect x="465.20" y="415.70" width="12.40" height="3.20" rx="1.5" fill="#9a9a9a" opacity="0.55"/><rect x="481.00" y="415.35" width="12.40" height="3.30" rx="1.5" fill="#9a9a9a" opacity="0.55"/><rect x="497.60" y="414.95" width="12.40" height="3.30" rx="1.5" fill="#9a9a9a" opacity="0.55"/></g>
<g filter="url(#bl)"><rect x="385.69" y="413.20" width="11.21" height="1.20" rx="0.60" fill="#a4a4a4"/><rect x="385.40" y="416.40" width="11.80" height="2.00" rx="1.00" fill="#444444"/><rect x="401.89" y="413.20" width="11.21" height="1.20" rx="0.60" fill="#a8a8a8"/><rect x="401.60" y="416.50" width="11.80" height="2.00" rx="1.00" fill="#484848"/><rect x="417.59" y="413.20" width="11.21" height="1.20" rx="0.60" fill="#a4a4a4"/><rect x="417.30" y="416.50" width="11.80" height="2.00" rx="1.00" fill="#444444"/><rect x="433.29" y="413.20" width="11.21" height="1.20" rx="0.60" fill="#a8a8a8"/><rect x="433.00" y="416.50" width="11.80" height="2.00" rx="1.00" fill="#484848"/><rect x="449.59" y="413.00" width="11.21" height="1.20" rx="0.60" fill="#a4a4a4"/><rect x="449.30" y="416.30" width="11.80" height="2.00" rx="1.00" fill="#444444"/><rect x="465.79" y="413.00" width="11.21" height="1.20" rx="0.60" fill="#a4a4a4"/><rect x="465.50" y="416.30" width="11.80" height="2.00" rx="1.00" fill="#444444"/><rect x="481.59" y="412.40" width="11.21" height="1.60" rx="0.80" fill="#6e6e6e"/><rect x="481.30" y="415.95" width="11.80" height="2.10" rx="1.05" fill="#383838"/><rect x="498.19" y="412.10" width="11.21" height="1.60" rx="0.80" fill="#6e6e6e"/><rect x="497.90" y="415.55" width="11.80" height="2.10" rx="1.05" fill="#363636"/></g>
<rect x="384.20" y="428.00" width="128.00" height="9.40" fill="#d9d9d9"/>
<rect x="384.20" y="428.00" width="128.00" height="4.23" fill="#cdcdcd" opacity="0.5"/>
<rect x="400.75" y="428.00" width="1.6" height="9.40" fill="#e4e4e4" opacity="0.55"/><rect x="416.35" y="428.00" width="1.6" height="9.40" fill="#e4e4e4" opacity="0.55"/><rect x="432.30" y="428.00" width="1.6" height="9.40" fill="#e4e4e4" opacity="0.55"/><rect x="448.40" y="428.00" width="1.6" height="9.40" fill="#e4e4e4" opacity="0.55"/><rect x="464.30" y="428.00" width="1.6" height="9.40" fill="#e4e4e4" opacity="0.55"/><rect x="480.05" y="428.00" width="1.6" height="9.40" fill="#e4e4e4" opacity="0.55"/><rect x="495.90" y="428.00" width="1.6" height="9.40" fill="#e4e4e4" opacity="0.55"/>
<g filter="url(#bl3)"><rect x="387.60" y="429.95" width="12.80" height="3.90" rx="1.5" fill="#9a9a9a" opacity="0.55"/><rect x="402.70" y="430.05" width="12.80" height="3.90" rx="1.5" fill="#9a9a9a" opacity="0.55"/><rect x="418.80" y="430.05" width="12.80" height="3.90" rx="1.5" fill="#9a9a9a" opacity="0.55"/><rect x="440.71" y="430.30" width="7.19" height="3.80" rx="1.5" fill="#9a9a9a" opacity="0.55"/><rect x="451.00" y="429.95" width="12.80" height="3.90" rx="1.5" fill="#9a9a9a" opacity="0.55"/><rect x="466.40" y="429.95" width="12.80" height="3.90" rx="1.5" fill="#9a9a9a" opacity="0.55"/><rect x="482.50" y="429.95" width="12.80" height="3.90" rx="1.5" fill="#9a9a9a" opacity="0.55"/><rect x="498.10" y="429.75" width="12.80" height="3.90" rx="1.5" fill="#9a9a9a" opacity="0.55"/></g>
<g filter="url(#bl)"><rect x="387.90" y="430.55" width="12.20" height="2.70" rx="1.20" fill="#0c0c0c"/><rect x="403.00" y="430.65" width="12.20" height="2.70" rx="1.20" fill="#121212"/><rect x="419.10" y="430.65" width="12.20" height="2.70" rx="1.20" fill="#121212"/><rect x="441.01" y="430.90" width="6.59" height="2.60" rx="1.20" fill="#141414"/><rect x="451.30" y="430.55" width="12.20" height="2.70" rx="1.20" fill="#101010"/><rect x="466.70" y="430.55" width="12.20" height="2.70" rx="1.20" fill="#121212"/><rect x="482.80" y="430.55" width="12.20" height="2.70" rx="1.20" fill="#101010"/><rect x="498.40" y="430.35" width="12.20" height="2.70" rx="1.20" fill="#101010"/></g>
<path d="M432.6,429.9 Q434.0,432.6 436.6,433.4" fill="none" stroke="#222" stroke-width="0.9" filter="url(#bl2)"/>
<rect x="0.5" y="0.5" width="519" height="472" fill="none" stroke="#6b6b6b" stroke-width="1"/>
</svg>
</body></html>
